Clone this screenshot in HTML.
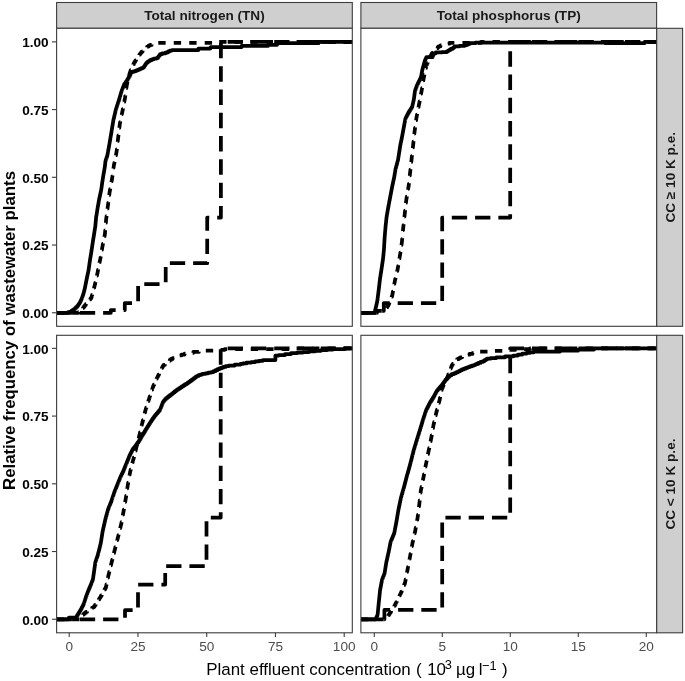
<!DOCTYPE html>
<html><head><meta charset="utf-8"><style>html,body{margin:0;padding:0;background:#fff;width:685px;height:681px;overflow:hidden}</style></head><body>
<svg width="685" height="681" viewBox="0 0 685 681" style="display:block;will-change:transform">
<rect width="685" height="681" fill="#fff"/>
<rect x="56.6" y="2.5" width="295.70" height="25.80" fill="#CFCFCF" stroke="#3d3d3d" stroke-width="1.1"/>
<text x="204.45" y="19.9" text-anchor="middle" font-family="Liberation Sans" font-weight="bold" font-size="13.6" fill="#1A1A1A">Total nitrogen (TN)</text>
<rect x="360.9" y="2.5" width="295.70" height="25.80" fill="#CFCFCF" stroke="#3d3d3d" stroke-width="1.1"/>
<text x="508.75" y="19.9" text-anchor="middle" font-family="Liberation Sans" font-weight="bold" font-size="13.6" fill="#1A1A1A">Total phosphorus (TP)</text>
<rect x="656.6" y="28.3" width="26.00" height="298.00" fill="#CFCFCF" stroke="#3d3d3d" stroke-width="1.1"/>
<text transform="translate(675.2,177.30) rotate(-90)" text-anchor="middle" font-family="Liberation Sans" font-weight="bold" font-size="13.6" fill="#1A1A1A">CC &#8805; 10 K p.e.</text>
<rect x="656.6" y="335.3" width="26.00" height="297.50" fill="#CFCFCF" stroke="#3d3d3d" stroke-width="1.1"/>
<text transform="translate(675.2,484.05) rotate(-90)" text-anchor="middle" font-family="Liberation Sans" font-weight="bold" font-size="13.6" fill="#1A1A1A">CC &lt; 10 K p.e.</text>
<rect x="56.6" y="28.3" width="295.70" height="298.00" fill="#fff"/>
<rect x="56.6" y="335.3" width="295.70" height="297.50" fill="#fff"/>
<rect x="360.9" y="28.3" width="295.70" height="298.00" fill="#fff"/>
<rect x="360.9" y="335.3" width="295.70" height="297.50" fill="#fff"/>
<defs>
<clipPath id="c00"><rect x="56.6" y="28.3" width="295.70" height="298.00"/></clipPath>
<clipPath id="c01"><rect x="56.6" y="335.3" width="295.70" height="297.50"/></clipPath>
<clipPath id="c10"><rect x="360.9" y="28.3" width="295.70" height="298.00"/></clipPath>
<clipPath id="c11"><rect x="360.9" y="335.3" width="295.70" height="297.50"/></clipPath>
</defs>
<path d="M56.60,312.75 L110.80,312.75 L110.80,310.00 L124.80,310.00 L124.80,303.10 L138.10,303.10 L138.10,284.10 L165.70,284.10 L165.70,263.20 L207.20,263.20 L207.20,217.50 L220.90,217.50 L220.90,41.90 L354.30,41.90" fill="none" stroke="#000" stroke-width="3.75" stroke-linejoin="round" stroke-dasharray="15.3 7.96" clip-path="url(#c00)"/>
<path d="M56.60,312.75 L78.00,312.75 L78.58,312.75 L78.58,312.00 L79.75,312.00 L79.75,311.25 L80.92,311.25 L80.92,310.50 L81.50,310.50 L81.80,310.50 L81.80,309.60 L82.40,309.60 L82.40,308.70 L83.00,308.70 L83.00,307.80 L83.60,307.80 L83.60,306.90 L84.20,306.90 L84.20,306.00 L84.50,306.00 L84.94,306.00 L84.94,305.00 L85.81,305.00 L85.81,304.00 L86.69,304.00 L86.69,303.00 L87.56,303.00 L87.56,302.00 L88.00,302.00 L88.34,302.00 L88.34,301.14 L89.02,301.14 L89.02,300.28 L89.70,300.28 L89.70,299.42 L90.38,299.42 L90.38,298.56 L91.06,298.56 L91.06,297.70 L91.40,297.70 L91.53,297.70 L91.53,296.77 L91.78,296.77 L91.78,295.85 L92.04,295.85 L92.04,294.92 L92.29,294.92 L92.29,293.99 L92.55,293.99 L92.55,293.06 L92.80,293.06 L92.80,292.14 L93.05,292.14 L93.05,291.21 L93.31,291.21 L93.31,290.28 L93.56,290.28 L93.56,289.35 L93.82,289.35 L93.82,288.43 L94.07,288.43 L94.07,287.50 L94.20,287.50 L94.31,287.50 L94.31,286.56 L94.54,286.56 L94.54,285.62 L94.76,285.62 L94.76,284.69 L94.99,284.69 L94.99,283.75 L95.21,283.75 L95.21,282.81 L95.44,282.81 L95.44,281.88 L95.66,281.88 L95.66,280.94 L95.89,280.94 L95.89,280.00 L96.00,280.00 L96.09,280.00 L96.09,279.11 L96.28,279.11 L96.28,278.23 L96.47,278.23 L96.47,277.34 L96.66,277.34 L96.66,276.45 L96.84,276.45 L96.84,275.56 L97.03,275.56 L97.03,274.67 L97.22,274.67 L97.22,273.79 L97.41,273.79 L97.41,272.90 L97.50,272.90 L97.59,272.90 L97.59,271.91 L97.78,271.91 L97.78,270.92 L97.97,270.92 L97.97,269.94 L98.16,269.94 L98.16,268.95 L98.34,268.95 L98.34,267.96 L98.53,267.96 L98.53,266.98 L98.72,266.98 L98.72,265.99 L98.91,265.99 L98.91,265.00 L99.00,265.00 L99.10,265.00 L99.10,264.07 L99.30,264.07 L99.30,263.14 L99.50,263.14 L99.50,262.21 L99.70,262.21 L99.70,261.29 L99.90,261.29 L99.90,260.36 L100.10,260.36 L100.10,259.43 L100.30,259.43 L100.30,258.50 L100.40,258.50 L100.48,258.50 L100.48,257.52 L100.65,257.52 L100.65,256.53 L100.82,256.53 L100.82,255.55 L100.98,255.55 L100.98,254.57 L101.15,254.57 L101.15,253.58 L101.32,253.58 L101.32,252.60 L101.48,252.60 L101.48,251.62 L101.65,251.62 L101.65,250.63 L101.82,250.63 L101.82,249.65 L101.98,249.65 L101.98,248.67 L102.15,248.67 L102.15,247.68 L102.32,247.68 L102.32,246.70 L102.40,246.70 L102.50,246.70 L102.50,245.75 L102.69,245.75 L102.69,244.79 L102.88,244.79 L102.88,243.84 L103.07,243.84 L103.07,242.88 L103.27,242.88 L103.27,241.93 L103.46,241.93 L103.46,240.98 L103.65,240.98 L103.65,240.02 L103.84,240.02 L103.84,239.07 L104.03,239.07 L104.03,238.12 L104.23,238.12 L104.23,237.16 L104.42,237.16 L104.42,236.21 L104.61,236.21 L104.61,235.25 L104.80,235.25 L104.80,234.30 L104.90,234.30 L104.94,234.30 L104.94,233.33 L105.02,233.33 L105.02,232.37 L105.10,232.37 L105.10,231.40 L105.18,231.40 L105.18,230.43 L105.26,230.43 L105.26,229.47 L105.34,229.47 L105.34,228.50 L105.42,228.50 L105.42,227.53 L105.50,227.53 L105.50,226.57 L105.58,226.57 L105.58,225.60 L105.66,225.60 L105.66,224.63 L105.74,224.63 L105.74,223.67 L105.82,223.67 L105.82,222.70 L105.90,222.70 L105.90,221.73 L105.98,221.73 L105.98,220.77 L106.06,220.77 L106.06,219.80 L106.10,219.80 L106.16,219.80 L106.16,218.86 L106.28,218.86 L106.28,217.92 L106.40,217.92 L106.40,216.98 L106.52,216.98 L106.52,216.04 L106.64,216.04 L106.64,215.10 L106.76,215.10 L106.76,214.16 L106.88,214.16 L106.88,213.22 L107.00,213.22 L107.00,212.28 L107.12,212.28 L107.12,211.34 L107.24,211.34 L107.24,210.40 L107.36,210.40 L107.36,209.46 L107.48,209.46 L107.48,208.52 L107.60,208.52 L107.60,207.58 L107.72,207.58 L107.72,206.64 L107.84,206.64 L107.84,205.70 L107.90,205.70 L107.96,205.70 L107.96,204.74 L108.08,204.74 L108.08,203.77 L108.20,203.77 L108.20,202.81 L108.33,202.81 L108.33,201.84 L108.45,201.84 L108.45,200.88 L108.57,200.88 L108.57,199.91 L108.69,199.91 L108.69,198.95 L108.81,198.95 L108.81,197.99 L108.93,197.99 L108.93,197.02 L109.05,197.02 L109.05,196.06 L109.17,196.06 L109.17,195.09 L109.30,195.09 L109.30,194.13 L109.42,194.13 L109.42,193.16 L109.54,193.16 L109.54,192.20 L109.60,192.20 L109.69,192.20 L109.69,191.21 L109.88,191.21 L109.88,190.22 L110.06,190.22 L110.06,189.22 L110.25,189.22 L110.25,188.23 L110.43,188.23 L110.43,187.24 L110.62,187.24 L110.62,186.25 L110.80,186.25 L110.80,185.25 L110.98,185.25 L110.98,184.26 L111.17,184.26 L111.17,183.27 L111.35,183.27 L111.35,182.28 L111.54,182.28 L111.54,181.28 L111.72,181.28 L111.72,180.29 L111.91,180.29 L111.91,179.30 L112.00,179.30 L112.06,179.30 L112.06,178.34 L112.19,178.34 L112.19,177.37 L112.32,177.37 L112.32,176.41 L112.45,176.41 L112.45,175.44 L112.58,175.44 L112.58,174.48 L112.71,174.48 L112.71,173.51 L112.84,173.51 L112.84,172.55 L112.96,172.55 L112.96,171.59 L113.09,171.59 L113.09,170.62 L113.22,170.62 L113.22,169.66 L113.35,169.66 L113.35,168.69 L113.48,168.69 L113.48,167.73 L113.61,167.73 L113.61,166.76 L113.74,166.76 L113.74,165.80 L113.80,165.80 L113.90,165.80 L113.90,164.84 L114.09,164.84 L114.09,163.87 L114.28,163.87 L114.28,162.91 L114.47,162.91 L114.47,161.94 L114.67,161.94 L114.67,160.98 L114.86,160.98 L114.86,160.01 L115.05,160.01 L115.05,159.05 L115.25,159.05 L115.25,158.09 L115.44,158.09 L115.44,157.12 L115.63,157.12 L115.63,156.16 L115.83,156.16 L115.83,155.19 L116.02,155.19 L116.02,154.23 L116.21,154.23 L116.21,153.26 L116.40,153.26 L116.40,152.30 L116.50,152.30 L116.55,152.30 L116.55,151.36 L116.66,151.36 L116.66,150.42 L116.77,150.42 L116.77,149.48 L116.87,149.48 L116.87,148.54 L116.98,148.54 L116.98,147.60 L117.09,147.60 L117.09,146.66 L117.19,146.66 L117.19,145.72 L117.30,145.72 L117.30,144.78 L117.41,144.78 L117.41,143.84 L117.51,143.84 L117.51,142.90 L117.62,142.90 L117.62,141.96 L117.73,141.96 L117.73,141.02 L117.83,141.02 L117.83,140.08 L117.94,140.08 L117.94,139.14 L118.05,139.14 L118.05,138.20 L118.10,138.20 L118.16,138.20 L118.16,137.25 L118.27,137.25 L118.27,136.31 L118.38,136.31 L118.38,135.36 L118.50,135.36 L118.50,134.41 L118.61,134.41 L118.61,133.47 L118.72,133.47 L118.72,132.52 L118.84,132.52 L118.84,131.57 L118.95,131.57 L118.95,130.63 L119.06,130.63 L119.06,129.68 L119.18,129.68 L119.18,128.73 L119.29,128.73 L119.29,127.79 L119.40,127.79 L119.40,126.84 L119.52,126.84 L119.52,125.89 L119.63,125.89 L119.63,124.95 L119.74,124.95 L119.74,124.00 L119.80,124.00 L119.90,124.00 L119.90,123.01 L120.11,123.01 L120.11,122.02 L120.32,122.02 L120.32,121.02 L120.53,121.02 L120.53,120.03 L120.73,120.03 L120.73,119.04 L120.94,119.04 L120.94,118.05 L121.15,118.05 L121.15,117.05 L121.36,117.05 L121.36,116.06 L121.57,116.06 L121.57,115.07 L121.77,115.07 L121.77,114.08 L121.98,114.08 L121.98,113.08 L122.19,113.08 L122.19,112.09 L122.40,112.09 L122.40,111.10 L122.50,111.10 L122.59,111.10 L122.59,110.16 L122.77,110.16 L122.77,109.23 L122.95,109.23 L122.95,108.29 L123.12,108.29 L123.12,107.36 L123.30,107.36 L123.30,106.42 L123.48,106.42 L123.48,105.49 L123.66,105.49 L123.66,104.55 L123.84,104.55 L123.84,103.61 L124.02,103.61 L124.02,102.68 L124.20,102.68 L124.20,101.74 L124.38,101.74 L124.38,100.81 L124.55,100.81 L124.55,99.87 L124.73,99.87 L124.73,98.94 L124.91,98.94 L124.91,98.00 L125.00,98.00 L125.07,98.00 L125.07,97.00 L125.21,97.00 L125.21,96.00 L125.35,96.00 L125.35,95.00 L125.48,95.00 L125.48,94.00 L125.62,94.00 L125.62,93.00 L125.76,93.00 L125.76,92.00 L125.90,92.00 L125.90,91.00 L126.04,91.00 L126.04,90.00 L126.18,90.00 L126.18,89.00 L126.32,89.00 L126.32,88.00 L126.45,88.00 L126.45,87.00 L126.59,87.00 L126.59,86.00 L126.73,86.00 L126.73,85.00 L126.80,85.00 L126.92,85.00 L126.92,84.00 L127.17,84.00 L127.17,83.00 L127.41,83.00 L127.41,82.00 L127.66,82.00 L127.66,81.00 L127.90,81.00 L127.90,80.00 L128.15,80.00 L128.15,79.00 L128.40,79.00 L128.40,78.00 L128.64,78.00 L128.64,77.00 L128.89,77.00 L128.89,76.00 L129.13,76.00 L129.13,75.00 L129.38,75.00 L129.38,74.00 L129.50,74.00 L129.67,74.00 L129.67,73.00 L130.00,73.00 L130.00,72.00 L130.33,72.00 L130.33,71.00 L130.67,71.00 L130.67,70.00 L131.00,70.00 L131.00,69.00 L131.33,69.00 L131.33,68.00 L131.50,68.00 L131.76,68.00 L131.76,67.03 L132.28,67.03 L132.28,66.07 L132.79,66.07 L132.79,65.10 L133.31,65.10 L133.31,64.13 L133.82,64.13 L133.82,63.17 L134.34,63.17 L134.34,62.20 L134.60,62.20 L134.89,62.20 L134.89,61.26 L135.47,61.26 L135.47,60.32 L136.05,60.32 L136.05,59.38 L136.63,59.38 L136.63,58.44 L137.21,58.44 L137.21,57.50 L137.50,57.50 L137.87,57.50 L137.87,56.50 L138.61,56.50 L138.61,55.50 L139.35,55.50 L139.35,54.50 L140.09,54.50 L140.09,53.50 L140.83,53.50 L140.83,52.50 L141.20,52.50 L141.67,52.50 L141.67,51.50 L142.62,51.50 L142.62,50.50 L143.57,50.50 L143.57,49.50 L144.53,49.50 L144.53,48.50 L145.00,48.50 L145.72,48.50 L145.72,47.53 L147.15,47.53 L147.15,46.57 L148.58,46.57 L148.58,45.60 L149.30,45.60 L150.08,45.60 L150.08,44.90 L151.65,44.90 L151.65,44.20 L153.22,44.20 L153.22,43.50 L154.00,43.50 L156.60,43.50 L156.60,42.90 L159.20,42.90 L212.00,42.90 L213.00,42.90 L213.00,41.90 L214.00,41.90 L354.30,41.90" fill="none" stroke="#000" stroke-width="3.75" stroke-linejoin="round" stroke-dasharray="7.35 8.13" clip-path="url(#c00)"/>
<path d="M56.60,312.75 L67.00,312.75 L68.00,312.75 L68.00,312.12 L70.00,312.12 L70.00,311.50 L71.00,311.50 L71.58,311.50 L71.58,310.67 L72.75,310.67 L72.75,309.83 L73.92,309.83 L73.92,309.00 L74.50,309.00 L75.02,309.00 L75.02,308.00 L76.05,308.00 L76.05,307.00 L77.08,307.00 L77.08,306.00 L77.60,306.00 L77.90,306.00 L77.90,305.12 L78.50,305.12 L78.50,304.25 L79.10,304.25 L79.10,303.38 L79.70,303.38 L79.70,302.50 L80.00,302.50 L80.20,302.50 L80.20,301.62 L80.60,301.62 L80.60,300.75 L81.00,300.75 L81.00,299.88 L81.40,299.88 L81.40,299.00 L81.60,299.00 L81.78,299.00 L81.78,298.00 L82.14,298.00 L82.14,297.00 L82.50,297.00 L82.50,296.00 L82.86,296.00 L82.86,295.00 L83.22,295.00 L83.22,294.00 L83.40,294.00 L83.52,294.00 L83.52,293.08 L83.75,293.08 L83.75,292.17 L83.98,292.17 L83.98,291.25 L84.22,291.25 L84.22,290.33 L84.45,290.33 L84.45,289.42 L84.68,289.42 L84.68,288.50 L84.80,288.50 L84.89,288.50 L84.89,287.57 L85.08,287.57 L85.08,286.64 L85.26,286.64 L85.26,285.71 L85.45,285.71 L85.45,284.79 L85.64,284.79 L85.64,283.86 L85.82,283.86 L85.82,282.93 L86.01,282.93 L86.01,282.00 L86.10,282.00 L86.20,282.00 L86.20,281.00 L86.40,281.00 L86.40,280.00 L86.60,280.00 L86.60,279.00 L86.80,279.00 L86.80,278.00 L87.00,278.00 L87.00,277.00 L87.20,277.00 L87.20,276.00 L87.30,276.00 L87.40,276.00 L87.40,275.08 L87.60,275.08 L87.60,274.17 L87.80,274.17 L87.80,273.25 L88.00,273.25 L88.00,272.33 L88.20,272.33 L88.20,271.42 L88.40,271.42 L88.40,270.50 L88.50,270.50 L88.57,270.50 L88.57,269.55 L88.70,269.55 L88.70,268.59 L88.84,268.59 L88.84,267.64 L88.98,267.64 L88.98,266.68 L89.11,266.68 L89.11,265.73 L89.25,265.73 L89.25,264.77 L89.39,264.77 L89.39,263.82 L89.52,263.82 L89.52,262.86 L89.66,262.86 L89.66,261.91 L89.80,261.91 L89.80,260.95 L89.93,260.95 L89.93,260.00 L90.00,260.00 L90.08,260.00 L90.08,259.10 L90.22,259.10 L90.22,258.20 L90.38,258.20 L90.38,257.30 L90.53,257.30 L90.53,256.40 L90.67,256.40 L90.67,255.50 L90.83,255.50 L90.83,254.60 L90.98,254.60 L90.98,253.70 L91.12,253.70 L91.12,252.80 L91.20,252.80 L91.27,252.80 L91.27,251.82 L91.42,251.82 L91.42,250.84 L91.56,250.84 L91.56,249.87 L91.71,249.87 L91.71,248.89 L91.85,248.89 L91.85,247.91 L91.99,247.91 L91.99,246.93 L92.14,246.93 L92.14,245.96 L92.28,245.96 L92.28,244.98 L92.43,244.98 L92.43,244.00 L92.50,244.00 L92.58,244.00 L92.58,243.02 L92.73,243.02 L92.73,242.04 L92.89,242.04 L92.89,241.07 L93.04,241.07 L93.04,240.09 L93.20,240.09 L93.20,239.11 L93.36,239.11 L93.36,238.13 L93.51,238.13 L93.51,237.16 L93.67,237.16 L93.67,236.18 L93.82,236.18 L93.82,235.20 L93.90,235.20 L93.98,235.20 L93.98,234.22 L94.13,234.22 L94.13,233.24 L94.29,233.24 L94.29,232.27 L94.44,232.27 L94.44,231.29 L94.60,231.29 L94.60,230.31 L94.76,230.31 L94.76,229.33 L94.91,229.33 L94.91,228.36 L95.07,228.36 L95.07,227.38 L95.22,227.38 L95.22,226.40 L95.30,226.40 L95.34,226.40 L95.34,225.42 L95.43,225.42 L95.43,224.44 L95.52,224.44 L95.52,223.47 L95.61,223.47 L95.61,222.49 L95.70,222.49 L95.70,221.51 L95.79,221.51 L95.79,220.53 L95.88,220.53 L95.88,219.56 L95.97,219.56 L95.97,218.58 L96.06,218.58 L96.06,217.60 L96.10,217.60 L96.18,217.60 L96.18,216.62 L96.33,216.62 L96.33,215.64 L96.49,215.64 L96.49,214.67 L96.64,214.67 L96.64,213.69 L96.80,213.69 L96.80,212.71 L96.96,212.71 L96.96,211.73 L97.11,211.73 L97.11,210.76 L97.27,210.76 L97.27,209.78 L97.42,209.78 L97.42,208.80 L97.50,208.80 L97.58,208.80 L97.58,207.82 L97.75,207.82 L97.75,206.84 L97.92,206.84 L97.92,205.87 L98.08,205.87 L98.08,204.89 L98.25,204.89 L98.25,203.91 L98.42,203.91 L98.42,202.93 L98.58,202.93 L98.58,201.96 L98.75,201.96 L98.75,200.98 L98.92,200.98 L98.92,200.00 L99.00,200.00 L99.11,200.00 L99.11,199.04 L99.31,199.04 L99.31,198.08 L99.53,198.08 L99.53,197.12 L99.73,197.12 L99.73,196.16 L99.94,196.16 L99.94,195.20 L100.16,195.20 L100.16,194.24 L100.36,194.24 L100.36,193.28 L100.57,193.28 L100.57,192.32 L100.78,192.32 L100.78,191.36 L100.99,191.36 L100.99,190.40 L101.10,190.40 L101.17,190.40 L101.17,189.43 L101.31,189.43 L101.31,188.45 L101.45,188.45 L101.45,187.47 L101.60,187.47 L101.60,186.50 L101.74,186.50 L101.74,185.53 L101.88,185.53 L101.88,184.55 L102.02,184.55 L102.02,183.57 L102.16,183.57 L102.16,182.60 L102.30,182.60 L102.30,181.62 L102.45,181.62 L102.45,180.65 L102.59,180.65 L102.59,179.67 L102.73,179.67 L102.73,178.70 L102.80,178.70 L102.88,178.70 L102.88,177.72 L103.05,177.72 L103.05,176.75 L103.22,176.75 L103.22,175.77 L103.38,175.77 L103.38,174.80 L103.55,174.80 L103.55,173.82 L103.72,173.82 L103.72,172.85 L103.88,172.85 L103.88,171.88 L104.05,171.88 L104.05,170.90 L104.22,170.90 L104.22,169.93 L104.38,169.93 L104.38,168.95 L104.55,168.95 L104.55,167.97 L104.72,167.97 L104.72,167.00 L104.80,167.00 L104.86,167.00 L104.86,166.02 L104.97,166.02 L104.97,165.03 L105.09,165.03 L105.09,164.05 L105.21,164.05 L105.21,163.07 L105.33,163.07 L105.33,162.08 L105.44,162.08 L105.44,161.10 L105.50,161.10 L105.66,161.10 L105.66,160.12 L105.97,160.12 L105.97,159.13 L106.29,159.13 L106.29,158.15 L106.61,158.15 L106.61,157.17 L106.93,157.17 L106.93,156.18 L107.24,156.18 L107.24,155.20 L107.40,155.20 L107.49,155.20 L107.49,154.22 L107.66,154.22 L107.66,153.25 L107.84,153.25 L107.84,152.27 L108.01,152.27 L108.01,151.30 L108.19,151.30 L108.19,150.32 L108.36,150.32 L108.36,149.35 L108.54,149.35 L108.54,148.38 L108.71,148.38 L108.71,147.40 L108.89,147.40 L108.89,146.43 L109.06,146.43 L109.06,145.45 L109.24,145.45 L109.24,144.47 L109.41,144.47 L109.41,143.50 L109.50,143.50 L109.58,143.50 L109.58,142.52 L109.75,142.52 L109.75,141.53 L109.92,141.53 L109.92,140.55 L110.08,140.55 L110.08,139.57 L110.25,139.57 L110.25,138.58 L110.42,138.58 L110.42,137.60 L110.58,137.60 L110.58,136.62 L110.75,136.62 L110.75,135.63 L110.92,135.63 L110.92,134.65 L111.08,134.65 L111.08,133.67 L111.25,133.67 L111.25,132.68 L111.42,132.68 L111.42,131.70 L111.50,131.70 L111.58,131.70 L111.58,130.72 L111.74,130.72 L111.74,129.75 L111.90,129.75 L111.90,128.77 L112.05,128.77 L112.05,127.80 L112.21,127.80 L112.21,126.82 L112.37,126.82 L112.37,125.85 L112.53,125.85 L112.53,124.88 L112.69,124.88 L112.69,123.90 L112.85,123.90 L112.85,122.92 L113.00,122.92 L113.00,121.95 L113.16,121.95 L113.16,120.97 L113.32,120.97 L113.32,120.00 L113.40,120.00 L113.51,120.00 L113.51,119.08 L113.73,119.08 L113.73,118.16 L113.95,118.16 L113.95,117.25 L114.16,117.25 L114.16,116.33 L114.38,116.33 L114.38,115.41 L114.60,115.41 L114.60,114.49 L114.82,114.49 L114.82,113.57 L115.04,113.57 L115.04,112.65 L115.25,112.65 L115.25,111.74 L115.47,111.74 L115.47,110.82 L115.69,110.82 L115.69,109.90 L115.80,109.90 L115.96,109.90 L115.96,108.90 L116.28,108.90 L116.28,107.90 L116.60,107.90 L116.60,106.90 L116.92,106.90 L116.92,105.90 L117.24,105.90 L117.24,104.90 L117.56,104.90 L117.56,103.90 L117.88,103.90 L117.88,102.90 L118.20,102.90 L118.20,101.90 L118.52,101.90 L118.52,100.90 L118.84,100.90 L118.84,99.90 L119.00,99.90 L119.14,99.90 L119.14,98.96 L119.41,98.96 L119.41,98.03 L119.69,98.03 L119.69,97.09 L119.96,97.09 L119.96,96.15 L120.24,96.15 L120.24,95.21 L120.51,95.21 L120.51,94.28 L120.79,94.28 L120.79,93.34 L121.06,93.34 L121.06,92.40 L121.20,92.40 L121.38,92.40 L121.38,91.44 L121.74,91.44 L121.74,90.48 L122.11,90.48 L122.11,89.51 L122.47,89.51 L122.47,88.55 L122.83,88.55 L122.83,87.59 L123.19,87.59 L123.19,86.62 L123.56,86.62 L123.56,85.66 L123.92,85.66 L123.92,84.70 L124.10,84.70 L124.39,84.70 L124.39,83.86 L124.97,83.86 L124.97,83.02 L125.55,83.02 L125.55,82.18 L126.13,82.18 L126.13,81.34 L126.71,81.34 L126.71,80.50 L127.00,80.50 L127.25,80.50 L127.25,79.63 L127.75,79.63 L127.75,78.77 L128.25,78.77 L128.25,77.90 L128.75,77.90 L128.75,77.03 L129.25,77.03 L129.25,76.17 L129.75,76.17 L129.75,75.30 L130.00,75.30 L130.22,75.30 L130.22,74.30 L130.65,74.30 L130.65,73.30 L131.08,73.30 L131.08,72.30 L131.30,72.30 L132.30,72.30 L132.30,71.65 L134.30,71.65 L134.30,71.00 L135.30,71.00 L136.18,71.00 L136.18,70.27 L137.95,70.27 L137.95,69.53 L139.72,69.53 L139.72,68.80 L140.60,68.80 L141.32,68.80 L141.32,68.20 L142.78,68.20 L142.78,67.60 L143.50,67.60 L143.79,67.60 L143.79,66.72 L144.37,66.72 L144.37,65.84 L144.95,65.84 L144.95,64.96 L145.53,64.96 L145.53,64.08 L146.11,64.08 L146.11,63.20 L146.40,63.20 L146.83,63.20 L146.83,62.47 L147.70,62.47 L147.70,61.73 L148.57,61.73 L148.57,61.00 L149.00,61.00 L149.85,61.00 L149.85,60.15 L151.55,60.15 L151.55,59.30 L152.40,59.30 L153.68,59.30 L153.68,58.65 L156.22,58.65 L156.22,58.00 L157.50,58.00 L157.86,58.00 L157.86,57.05 L158.59,57.05 L158.59,56.10 L159.31,56.10 L159.31,55.15 L160.04,55.15 L160.04,54.20 L160.40,54.20 L162.03,54.20 L162.03,53.40 L165.28,53.40 L165.28,52.60 L166.90,52.60 L167.48,52.60 L167.48,51.90 L168.65,51.90 L168.65,51.20 L169.82,51.20 L169.82,50.50 L170.40,50.50 L171.90,50.50 L171.90,50.00 L173.40,50.00 L198.40,50.00 L198.40,48.60 L210.00,48.60 L210.25,48.60 L210.25,47.85 L210.75,47.85 L210.75,47.10 L211.00,47.10 L226.30,47.10 L226.30,47.00 L241.60,47.00 L241.60,45.90 L267.90,45.90 L267.90,44.80 L276.70,44.80 L277.02,44.80 L277.02,44.00 L277.68,44.00 L277.68,43.20 L278.00,43.20 L318.50,43.20 L318.50,41.90 L354.30,41.90" fill="none" stroke="#000" stroke-width="3.75" stroke-linejoin="round"  clip-path="url(#c00)"/>
<path d="M360.90,312.75 L377.00,312.75 L377.00,310.80 L383.80,310.80 L383.80,303.00 L442.20,303.00 L442.20,217.60 L510.20,217.60 L510.20,41.90 L658.60,41.90" fill="none" stroke="#000" stroke-width="3.75" stroke-linejoin="round" stroke-dasharray="15.3 7.96" clip-path="url(#c10)"/>
<path d="M360.90,312.75 L377.00,312.75 L377.00,310.80 L385.00,310.80 L385.26,310.80 L385.26,309.90 L385.79,309.90 L385.79,309.00 L386.32,309.00 L386.32,308.10 L386.85,308.10 L386.85,307.20 L387.38,307.20 L387.38,306.30 L387.91,306.30 L387.91,305.40 L388.44,305.40 L388.44,304.50 L388.70,304.50 L388.89,304.50 L388.89,303.52 L389.28,303.52 L389.28,302.54 L389.67,302.54 L389.67,301.57 L390.06,301.57 L390.06,300.59 L390.45,300.59 L390.45,299.61 L390.84,299.61 L390.84,298.63 L391.23,298.63 L391.23,297.66 L391.62,297.66 L391.62,296.68 L392.01,296.68 L392.01,295.70 L392.20,295.70 L392.29,295.70 L392.29,294.71 L392.47,294.71 L392.47,293.71 L392.65,293.71 L392.65,292.72 L392.83,292.72 L392.83,291.73 L393.01,291.73 L393.01,290.73 L393.19,290.73 L393.19,289.74 L393.37,289.74 L393.37,288.75 L393.55,288.75 L393.55,287.75 L393.73,287.75 L393.73,286.76 L393.91,286.76 L393.91,285.77 L394.09,285.77 L394.09,284.77 L394.27,284.77 L394.27,283.78 L394.45,283.78 L394.45,282.79 L394.63,282.79 L394.63,281.79 L394.81,281.79 L394.81,280.80 L394.90,280.80 L395.02,280.80 L395.02,279.82 L395.25,279.82 L395.25,278.83 L395.48,278.83 L395.48,277.85 L395.72,277.85 L395.72,276.87 L395.95,276.87 L395.95,275.88 L396.18,275.88 L396.18,274.90 L396.42,274.90 L396.42,273.92 L396.65,273.92 L396.65,272.93 L396.88,272.93 L396.88,271.95 L397.12,271.95 L397.12,270.97 L397.35,270.97 L397.35,269.98 L397.58,269.98 L397.58,269.00 L397.70,269.00 L397.78,269.00 L397.78,268.04 L397.94,268.04 L397.94,267.08 L398.10,267.08 L398.10,266.12 L398.26,266.12 L398.26,265.16 L398.42,265.16 L398.42,264.20 L398.58,264.20 L398.58,263.24 L398.74,263.24 L398.74,262.28 L398.90,262.28 L398.90,261.32 L399.06,261.32 L399.06,260.36 L399.22,260.36 L399.22,259.40 L399.38,259.40 L399.38,258.44 L399.54,258.44 L399.54,257.48 L399.70,257.48 L399.70,256.52 L399.86,256.52 L399.86,255.56 L400.02,255.56 L400.02,254.60 L400.10,254.60 L400.17,254.60 L400.17,253.63 L400.31,253.63 L400.31,252.66 L400.45,252.66 L400.45,251.69 L400.58,251.69 L400.58,250.72 L400.72,250.72 L400.72,249.75 L400.86,249.75 L400.86,248.78 L401.00,248.78 L401.00,247.82 L401.14,247.82 L401.14,246.85 L401.28,246.85 L401.28,245.88 L401.42,245.88 L401.42,244.91 L401.55,244.91 L401.55,243.94 L401.69,243.94 L401.69,242.97 L401.83,242.97 L401.83,242.00 L401.90,242.00 L401.95,242.00 L401.95,241.01 L402.04,241.01 L402.04,240.01 L402.13,240.01 L402.13,239.02 L402.22,239.02 L402.22,238.03 L402.32,238.03 L402.32,237.04 L402.41,237.04 L402.41,236.04 L402.50,236.04 L402.50,235.05 L402.60,235.05 L402.60,234.06 L402.69,234.06 L402.69,233.06 L402.78,233.06 L402.78,232.07 L402.88,232.07 L402.88,231.08 L402.97,231.08 L402.97,230.09 L403.06,230.09 L403.06,229.09 L403.15,229.09 L403.15,228.10 L403.20,228.10 L403.25,228.10 L403.25,227.13 L403.36,227.13 L403.36,226.17 L403.47,226.17 L403.47,225.20 L403.57,225.20 L403.57,224.23 L403.68,224.23 L403.68,223.27 L403.79,223.27 L403.79,222.30 L403.89,222.30 L403.89,221.33 L404.00,221.33 L404.00,220.37 L404.11,220.37 L404.11,219.40 L404.21,219.40 L404.21,218.43 L404.32,218.43 L404.32,217.47 L404.43,217.47 L404.43,216.50 L404.53,216.50 L404.53,215.53 L404.64,215.53 L404.64,214.57 L404.75,214.57 L404.75,213.60 L404.80,213.60 L404.85,213.60 L404.85,212.61 L404.96,212.61 L404.96,211.61 L405.07,211.61 L405.07,210.62 L405.18,210.62 L405.18,209.63 L405.28,209.63 L405.28,208.64 L405.39,208.64 L405.39,207.64 L405.50,207.64 L405.50,206.65 L405.60,206.65 L405.60,205.66 L405.71,205.66 L405.71,204.66 L405.82,204.66 L405.82,203.67 L405.93,203.67 L405.93,202.68 L406.03,202.68 L406.03,201.69 L406.14,201.69 L406.14,200.69 L406.25,200.69 L406.25,199.70 L406.30,199.70 L406.39,199.70 L406.39,198.71 L406.56,198.71 L406.56,197.71 L406.73,197.71 L406.73,196.72 L406.90,196.72 L406.90,195.73 L407.07,195.73 L407.07,194.74 L407.24,194.74 L407.24,193.74 L407.41,193.74 L407.41,192.75 L407.59,192.75 L407.59,191.76 L407.76,191.76 L407.76,190.76 L407.93,190.76 L407.93,189.77 L408.10,189.77 L408.10,188.78 L408.27,188.78 L408.27,187.79 L408.44,187.79 L408.44,186.79 L408.61,186.79 L408.61,185.80 L408.70,185.80 L408.75,185.80 L408.75,184.86 L408.85,184.86 L408.85,183.91 L408.95,183.91 L408.95,182.97 L409.05,182.97 L409.05,182.03 L409.15,182.03 L409.15,181.09 L409.25,181.09 L409.25,180.14 L409.35,180.14 L409.35,179.20 L409.45,179.20 L409.45,178.26 L409.55,178.26 L409.55,177.31 L409.65,177.31 L409.65,176.37 L409.75,176.37 L409.75,175.43 L409.85,175.43 L409.85,174.49 L409.95,174.49 L409.95,173.54 L410.05,173.54 L410.05,172.60 L410.10,172.60 L410.15,172.60 L410.15,171.63 L410.26,171.63 L410.26,170.66 L410.37,170.66 L410.37,169.69 L410.48,169.69 L410.48,168.71 L410.58,168.71 L410.58,167.74 L410.69,167.74 L410.69,166.77 L410.80,166.77 L410.80,165.80 L410.90,165.80 L410.90,164.83 L411.01,164.83 L411.01,163.86 L411.12,163.86 L411.12,162.89 L411.23,162.89 L411.23,161.91 L411.33,161.91 L411.33,160.94 L411.44,160.94 L411.44,159.97 L411.55,159.97 L411.55,159.00 L411.60,159.00 L411.65,159.00 L411.65,158.04 L411.76,158.04 L411.76,157.08 L411.87,157.08 L411.87,156.12 L411.97,156.12 L411.97,155.16 L412.08,155.16 L412.08,154.20 L412.19,154.20 L412.19,153.24 L412.29,153.24 L412.29,152.28 L412.40,152.28 L412.40,151.32 L412.51,151.32 L412.51,150.36 L412.61,150.36 L412.61,149.40 L412.72,149.40 L412.72,148.44 L412.83,148.44 L412.83,147.48 L412.93,147.48 L412.93,146.52 L413.04,146.52 L413.04,145.56 L413.15,145.56 L413.15,144.60 L413.20,144.60 L413.25,144.60 L413.25,143.60 L413.36,143.60 L413.36,142.60 L413.47,142.60 L413.47,141.60 L413.57,141.60 L413.57,140.60 L413.68,140.60 L413.68,139.60 L413.79,139.60 L413.79,138.60 L413.90,138.60 L413.90,137.60 L414.00,137.60 L414.00,136.60 L414.11,136.60 L414.11,135.60 L414.22,135.60 L414.22,134.60 L414.32,134.60 L414.32,133.60 L414.43,133.60 L414.43,132.60 L414.54,132.60 L414.54,131.60 L414.65,131.60 L414.65,130.60 L414.70,130.60 L414.76,130.60 L414.76,129.66 L414.89,129.66 L414.89,128.71 L415.02,128.71 L415.02,127.77 L415.15,127.77 L415.15,126.83 L415.28,126.83 L415.28,125.89 L415.41,125.89 L415.41,124.94 L415.54,124.94 L415.54,124.00 L415.66,124.00 L415.66,123.06 L415.79,123.06 L415.79,122.11 L415.92,122.11 L415.92,121.17 L416.05,121.17 L416.05,120.23 L416.18,120.23 L416.18,119.29 L416.31,119.29 L416.31,118.34 L416.44,118.34 L416.44,117.40 L416.50,117.40 L416.59,117.40 L416.59,116.45 L416.78,116.45 L416.78,115.50 L416.96,115.50 L416.96,114.55 L417.15,114.55 L417.15,113.60 L417.34,113.60 L417.34,112.65 L417.52,112.65 L417.52,111.70 L417.71,111.70 L417.71,110.75 L417.89,110.75 L417.89,109.80 L418.08,109.80 L418.08,108.85 L418.26,108.85 L418.26,107.90 L418.45,107.90 L418.45,106.95 L418.64,106.95 L418.64,106.00 L418.82,106.00 L418.82,105.05 L419.01,105.05 L419.01,104.10 L419.10,104.10 L419.19,104.10 L419.19,103.16 L419.37,103.16 L419.37,102.21 L419.55,102.21 L419.55,101.27 L419.73,101.27 L419.73,100.33 L419.90,100.33 L419.90,99.39 L420.08,99.39 L420.08,98.44 L420.26,98.44 L420.26,97.50 L420.44,97.50 L420.44,96.56 L420.62,96.56 L420.62,95.61 L420.80,95.61 L420.80,94.67 L420.98,94.67 L420.98,93.73 L421.15,93.73 L421.15,92.79 L421.33,92.79 L421.33,91.84 L421.51,91.84 L421.51,90.90 L421.60,90.90 L421.68,90.90 L421.68,89.95 L421.84,89.95 L421.84,89.00 L421.99,89.00 L421.99,88.05 L422.15,88.05 L422.15,87.10 L422.31,87.10 L422.31,86.15 L422.46,86.15 L422.46,85.20 L422.62,85.20 L422.62,84.25 L422.78,84.25 L422.78,83.30 L422.94,83.30 L422.94,82.35 L423.09,82.35 L423.09,81.40 L423.25,81.40 L423.25,80.45 L423.41,80.45 L423.41,79.50 L423.56,79.50 L423.56,78.55 L423.72,78.55 L423.72,77.60 L423.80,77.60 L423.90,77.60 L423.90,76.64 L424.11,76.64 L424.11,75.68 L424.32,75.68 L424.32,74.72 L424.53,74.72 L424.53,73.75 L424.73,73.75 L424.73,72.79 L424.94,72.79 L424.94,71.83 L425.15,71.83 L425.15,70.87 L425.36,70.87 L425.36,69.91 L425.57,69.91 L425.57,68.95 L425.77,68.95 L425.77,67.98 L425.98,67.98 L425.98,67.02 L426.19,67.02 L426.19,66.06 L426.40,66.06 L426.40,65.10 L426.50,65.10 L426.72,65.10 L426.72,64.15 L427.16,64.15 L427.16,63.20 L427.60,63.20 L427.60,62.25 L428.05,62.25 L428.05,61.30 L428.49,61.30 L428.49,60.35 L428.93,60.35 L428.93,59.40 L429.37,59.40 L429.37,58.45 L429.81,58.45 L429.81,57.50 L430.25,57.50 L430.25,56.55 L430.70,56.55 L430.70,55.60 L431.14,55.60 L431.14,54.65 L431.58,54.65 L431.58,53.70 L431.80,53.70 L432.25,53.70 L432.25,52.78 L433.15,52.78 L433.15,51.85 L434.05,51.85 L434.05,50.92 L434.95,50.92 L434.95,50.00 L435.85,50.00 L435.85,49.08 L436.75,49.08 L436.75,48.15 L437.65,48.15 L437.65,47.22 L438.55,47.22 L438.55,46.30 L439.00,46.30 L440.49,46.30 L440.49,45.42 L443.46,45.42 L443.46,44.55 L446.44,44.55 L446.44,43.67 L449.41,43.67 L449.41,42.80 L450.90,42.80 L481.00,42.80 L481.00,41.90 L658.60,41.90" fill="none" stroke="#000" stroke-width="3.75" stroke-linejoin="round" stroke-dasharray="7.35 8.13" clip-path="url(#c10)"/>
<path d="M360.90,312.75 L374.50,312.75 L374.62,312.75 L374.62,311.81 L374.88,311.81 L374.88,310.88 L375.12,310.88 L375.12,309.94 L375.38,309.94 L375.38,309.00 L375.50,309.00 L375.61,309.00 L375.61,308.00 L375.84,308.00 L375.84,307.00 L376.06,307.00 L376.06,306.00 L376.29,306.00 L376.29,305.00 L376.51,305.00 L376.51,304.00 L376.74,304.00 L376.74,303.00 L376.96,303.00 L376.96,302.00 L377.19,302.00 L377.19,301.00 L377.30,301.00 L377.36,301.00 L377.36,300.00 L377.49,300.00 L377.49,299.00 L377.62,299.00 L377.62,298.00 L377.75,298.00 L377.75,297.00 L377.87,297.00 L377.87,296.00 L378.00,296.00 L378.00,295.00 L378.13,295.00 L378.13,294.00 L378.25,294.00 L378.25,293.00 L378.38,293.00 L378.38,292.00 L378.51,292.00 L378.51,291.00 L378.64,291.00 L378.64,290.00 L378.70,290.00 L378.75,290.00 L378.75,289.07 L378.86,289.07 L378.86,288.13 L378.97,288.13 L378.97,287.20 L379.08,287.20 L379.08,286.27 L379.19,286.27 L379.19,285.33 L379.30,285.33 L379.30,284.40 L379.40,284.40 L379.40,283.47 L379.51,283.47 L379.51,282.53 L379.62,282.53 L379.62,281.60 L379.73,281.60 L379.73,280.67 L379.84,280.67 L379.84,279.73 L379.95,279.73 L379.95,278.80 L380.00,278.80 L380.07,278.80 L380.07,277.86 L380.22,277.86 L380.22,276.93 L380.36,276.93 L380.36,275.99 L380.51,275.99 L380.51,275.05 L380.65,275.05 L380.65,274.12 L380.80,274.12 L380.80,273.18 L380.95,273.18 L380.95,272.25 L381.09,272.25 L381.09,271.31 L381.24,271.31 L381.24,270.37 L381.38,270.37 L381.38,269.44 L381.53,269.44 L381.53,268.50 L381.60,268.50 L381.67,268.50 L381.67,267.56 L381.80,267.56 L381.80,266.63 L381.94,266.63 L381.94,265.69 L382.08,265.69 L382.08,264.75 L382.21,264.75 L382.21,263.82 L382.35,263.82 L382.35,262.88 L382.49,262.88 L382.49,261.95 L382.62,261.95 L382.62,261.01 L382.76,261.01 L382.76,260.07 L382.90,260.07 L382.90,259.14 L383.03,259.14 L383.03,258.20 L383.10,258.20 L383.14,258.20 L383.14,257.29 L383.23,257.29 L383.23,256.38 L383.32,256.38 L383.32,255.47 L383.41,255.47 L383.41,254.56 L383.50,254.56 L383.50,253.64 L383.59,253.64 L383.59,252.73 L383.68,252.73 L383.68,251.82 L383.77,251.82 L383.77,250.91 L383.86,250.91 L383.86,250.00 L383.90,250.00 L383.93,250.00 L383.93,249.05 L383.99,249.05 L383.99,248.10 L384.04,248.10 L384.04,247.15 L384.10,247.15 L384.10,246.20 L384.16,246.20 L384.16,245.25 L384.21,245.25 L384.21,244.30 L384.27,244.30 L384.27,243.35 L384.33,243.35 L384.33,242.40 L384.39,242.40 L384.39,241.45 L384.44,241.45 L384.44,240.50 L384.50,240.50 L384.50,239.55 L384.56,239.55 L384.56,238.60 L384.61,238.60 L384.61,237.65 L384.67,237.65 L384.67,236.70 L384.70,236.70 L384.74,236.70 L384.74,235.74 L384.82,235.74 L384.82,234.77 L384.90,234.77 L384.90,233.81 L384.99,233.81 L384.99,232.85 L385.07,232.85 L385.07,231.88 L385.15,231.88 L385.15,230.92 L385.23,230.92 L385.23,229.95 L385.31,229.95 L385.31,228.99 L385.40,228.99 L385.40,228.03 L385.48,228.03 L385.48,227.06 L385.56,227.06 L385.56,226.10 L385.60,226.10 L385.65,226.10 L385.65,225.18 L385.75,225.18 L385.75,224.26 L385.85,224.26 L385.85,223.34 L385.95,223.34 L385.95,222.42 L386.05,222.42 L386.05,221.50 L386.15,221.50 L386.15,220.58 L386.25,220.58 L386.25,219.66 L386.35,219.66 L386.35,218.74 L386.45,218.74 L386.45,217.82 L386.55,217.82 L386.55,216.90 L386.60,216.90 L386.68,216.90 L386.68,215.97 L386.84,215.97 L386.84,215.04 L387.00,215.04 L387.00,214.11 L387.16,214.11 L387.16,213.18 L387.32,213.18 L387.32,212.25 L387.48,212.25 L387.48,211.32 L387.64,211.32 L387.64,210.39 L387.80,210.39 L387.80,209.46 L387.96,209.46 L387.96,208.53 L388.12,208.53 L388.12,207.60 L388.20,207.60 L388.29,207.60 L388.29,206.64 L388.47,206.64 L388.47,205.67 L388.65,205.67 L388.65,204.71 L388.84,204.71 L388.84,203.75 L389.02,203.75 L389.02,202.78 L389.20,202.78 L389.20,201.82 L389.38,201.82 L389.38,200.85 L389.56,200.85 L389.56,199.89 L389.75,199.89 L389.75,198.93 L389.93,198.93 L389.93,197.96 L390.11,197.96 L390.11,197.00 L390.20,197.00 L390.29,197.00 L390.29,196.05 L390.47,196.05 L390.47,195.09 L390.65,195.09 L390.65,194.14 L390.84,194.14 L390.84,193.18 L391.02,193.18 L391.02,192.23 L391.20,192.23 L391.20,191.27 L391.38,191.27 L391.38,190.32 L391.56,190.32 L391.56,189.36 L391.75,189.36 L391.75,188.41 L391.93,188.41 L391.93,187.45 L392.11,187.45 L392.11,186.50 L392.20,186.50 L392.30,186.50 L392.30,185.57 L392.50,185.57 L392.50,184.64 L392.70,184.64 L392.70,183.71 L392.90,183.71 L392.90,182.78 L393.10,182.78 L393.10,181.85 L393.30,181.85 L393.30,180.92 L393.50,180.92 L393.50,179.99 L393.70,179.99 L393.70,179.06 L393.90,179.06 L393.90,178.13 L394.10,178.13 L394.10,177.20 L394.20,177.20 L394.28,177.20 L394.28,176.21 L394.44,176.21 L394.44,175.22 L394.61,175.22 L394.61,174.24 L394.77,174.24 L394.77,173.25 L394.93,173.25 L394.93,172.26 L395.09,172.26 L395.09,171.28 L395.26,171.28 L395.26,170.29 L395.42,170.29 L395.42,169.30 L395.50,169.30 L395.62,169.30 L395.62,168.37 L395.88,168.37 L395.88,167.44 L396.12,167.44 L396.12,166.51 L396.38,166.51 L396.38,165.58 L396.62,165.58 L396.62,164.65 L396.88,164.65 L396.88,163.72 L397.12,163.72 L397.12,162.79 L397.38,162.79 L397.38,161.86 L397.62,161.86 L397.62,160.93 L397.88,160.93 L397.88,160.00 L398.00,160.00 L398.08,160.00 L398.08,159.02 L398.23,159.02 L398.23,158.04 L398.38,158.04 L398.38,157.06 L398.54,157.06 L398.54,156.08 L398.69,156.08 L398.69,155.10 L398.84,155.10 L398.84,154.12 L399.00,154.12 L399.00,153.14 L399.15,153.14 L399.15,152.16 L399.30,152.16 L399.30,151.18 L399.46,151.18 L399.46,150.20 L399.61,150.20 L399.61,149.22 L399.76,149.22 L399.76,148.24 L399.92,148.24 L399.92,147.26 L400.07,147.26 L400.07,146.28 L400.22,146.28 L400.22,145.30 L400.30,145.30 L400.40,145.30 L400.40,144.32 L400.60,144.32 L400.60,143.34 L400.80,143.34 L400.80,142.37 L401.00,142.37 L401.00,141.39 L401.20,141.39 L401.20,140.41 L401.40,140.41 L401.40,139.43 L401.60,139.43 L401.60,138.46 L401.80,138.46 L401.80,137.48 L402.00,137.48 L402.00,136.50 L402.10,136.50 L402.19,136.50 L402.19,135.56 L402.36,135.56 L402.36,134.63 L402.53,134.63 L402.53,133.69 L402.70,133.69 L402.70,132.75 L402.88,132.75 L402.88,131.82 L403.05,131.82 L403.05,130.88 L403.22,130.88 L403.22,129.95 L403.40,129.95 L403.40,129.01 L403.57,129.01 L403.57,128.07 L403.74,128.07 L403.74,127.14 L403.91,127.14 L403.91,126.20 L404.00,126.20 L404.09,126.20 L404.09,125.28 L404.26,125.28 L404.26,124.35 L404.44,124.35 L404.44,123.42 L404.61,123.42 L404.61,122.50 L404.79,122.50 L404.79,121.58 L404.96,121.58 L404.96,120.65 L405.14,120.65 L405.14,119.72 L405.31,119.72 L405.31,118.80 L405.40,118.80 L405.65,118.80 L405.65,117.82 L406.15,117.82 L406.15,116.83 L406.65,116.83 L406.65,115.85 L407.15,115.85 L407.15,114.87 L407.65,114.87 L407.65,113.88 L408.15,113.88 L408.15,112.90 L408.40,112.90 L408.71,112.90 L408.71,111.93 L409.32,111.93 L409.32,110.97 L409.94,110.97 L409.94,110.00 L410.56,110.00 L410.56,109.03 L411.18,109.03 L411.18,108.07 L411.79,108.07 L411.79,107.10 L412.10,107.10 L412.21,107.10 L412.21,106.17 L412.42,106.17 L412.42,105.25 L412.63,105.25 L412.63,104.33 L412.84,104.33 L412.84,103.40 L413.06,103.40 L413.06,102.47 L413.27,102.47 L413.27,101.55 L413.48,101.55 L413.48,100.62 L413.69,100.62 L413.69,99.70 L413.80,99.70 L413.87,99.70 L413.87,98.72 L414.00,98.72 L414.00,97.74 L414.13,97.74 L414.13,96.77 L414.27,96.77 L414.27,95.79 L414.40,95.79 L414.40,94.81 L414.53,94.81 L414.53,93.83 L414.67,93.83 L414.67,92.86 L414.80,92.86 L414.80,91.88 L414.93,91.88 L414.93,90.90 L415.00,90.90 L415.18,90.90 L415.18,89.92 L415.55,89.92 L415.55,88.93 L415.92,88.93 L415.92,87.95 L416.28,87.95 L416.28,86.97 L416.65,86.97 L416.65,85.98 L417.02,85.98 L417.02,85.00 L417.20,85.00 L417.43,85.00 L417.43,84.08 L417.89,84.08 L417.89,83.15 L418.36,83.15 L418.36,82.22 L418.82,82.22 L418.82,81.30 L419.28,81.30 L419.28,80.38 L419.74,80.38 L419.74,79.45 L420.21,79.45 L420.21,78.52 L420.67,78.52 L420.67,77.60 L420.90,77.60 L420.99,77.60 L420.99,76.65 L421.16,76.65 L421.16,75.70 L421.34,75.70 L421.34,74.75 L421.51,74.75 L421.51,73.80 L421.69,73.80 L421.69,72.85 L421.86,72.85 L421.86,71.90 L422.04,71.90 L422.04,70.95 L422.21,70.95 L422.21,70.00 L422.30,70.00 L422.44,70.00 L422.44,69.03 L422.70,69.03 L422.70,68.06 L422.98,68.06 L422.98,67.09 L423.25,67.09 L423.25,66.12 L423.51,66.12 L423.51,65.15 L423.79,65.15 L423.79,64.18 L424.06,64.18 L424.06,63.21 L424.32,63.21 L424.32,62.24 L424.60,62.24 L424.60,61.27 L424.87,61.27 L424.87,60.30 L425.00,60.30 L425.20,60.30 L425.20,59.52 L425.60,59.52 L425.60,58.75 L426.00,58.75 L426.00,57.98 L426.40,57.98 L426.40,57.20 L426.60,57.20 L432.30,57.20 L432.51,57.20 L432.51,56.23 L432.94,56.23 L432.94,55.25 L433.36,55.25 L433.36,54.27 L433.79,54.27 L433.79,53.30 L434.00,53.30 L435.75,53.30 L435.75,52.40 L437.50,52.40 L441.90,52.40 L441.90,52.00 L446.30,52.00 L446.88,52.00 L446.88,51.27 L448.05,51.27 L448.05,50.53 L449.22,50.53 L449.22,49.80 L449.80,49.80 L450.68,49.80 L450.68,48.90 L452.43,48.90 L452.43,48.00 L453.30,48.00 L453.73,48.00 L453.73,47.15 L454.57,47.15 L454.57,46.30 L455.00,46.30 L459.40,46.30 L459.40,45.80 L463.80,45.80 L464.68,45.80 L464.68,45.15 L466.43,45.15 L466.43,44.50 L467.30,44.50 L468.18,44.50 L468.18,43.85 L469.93,43.85 L469.93,43.20 L470.80,43.20 L475.40,43.20 L475.40,42.70 L480.00,42.70 L600.00,42.70 L605.00,42.70 L605.00,43.00 L610.00,43.00 L644.70,43.00 L644.70,41.90 L658.60,41.90" fill="none" stroke="#000" stroke-width="3.75" stroke-linejoin="round"  clip-path="url(#c10)"/>
<path d="M56.60,619.25 L125.00,619.25 L125.00,610.20 L138.00,610.20 L138.00,584.50 L165.20,584.50 L165.20,566.00 L206.50,566.00 L206.50,517.60 L220.70,517.60 L220.70,348.40 L354.30,348.40" fill="none" stroke="#000" stroke-width="3.75" stroke-linejoin="round" stroke-dasharray="15.3 7.96" clip-path="url(#c01)"/>
<path d="M56.60,619.25 L80.00,619.25 L80.34,619.25 L80.34,618.33 L81.03,618.33 L81.03,617.40 L81.71,617.40 L81.71,616.48 L82.39,616.48 L82.39,615.55 L83.07,615.55 L83.07,614.62 L83.76,614.62 L83.76,613.70 L84.10,613.70 L84.71,613.70 L84.71,612.78 L85.94,612.78 L85.94,611.85 L87.16,611.85 L87.16,610.92 L88.39,610.92 L88.39,610.00 L89.00,610.00 L89.64,610.00 L89.64,609.20 L90.91,609.20 L90.91,608.40 L92.19,608.40 L92.19,607.60 L93.46,607.60 L93.46,606.80 L94.10,606.80 L94.41,606.80 L94.41,605.86 L95.03,605.86 L95.03,604.92 L95.65,604.92 L95.65,603.98 L96.27,603.98 L96.27,603.04 L96.89,603.04 L96.89,602.10 L97.51,602.10 L97.51,601.16 L98.13,601.16 L98.13,600.22 L98.75,600.22 L98.75,599.28 L99.37,599.28 L99.37,598.34 L99.99,598.34 L99.99,597.40 L100.30,597.40 L100.58,597.40 L100.58,596.40 L101.14,596.40 L101.14,595.40 L101.70,595.40 L101.70,594.40 L102.26,594.40 L102.26,593.40 L102.82,593.40 L102.82,592.40 L103.38,592.40 L103.38,591.40 L103.94,591.40 L103.94,590.40 L104.50,590.40 L104.50,589.40 L105.06,589.40 L105.06,588.40 L105.62,588.40 L105.62,587.40 L105.90,587.40 L106.00,587.40 L106.00,586.42 L106.21,586.42 L106.21,585.43 L106.42,585.43 L106.42,584.45 L106.63,584.45 L106.63,583.47 L106.84,583.47 L106.84,582.48 L107.05,582.48 L107.05,581.50 L107.25,581.50 L107.25,580.52 L107.46,580.52 L107.46,579.53 L107.67,579.53 L107.67,578.55 L107.88,578.55 L107.88,577.57 L108.09,577.57 L108.09,576.58 L108.30,576.58 L108.30,575.60 L108.40,575.60 L108.51,575.60 L108.51,574.66 L108.74,574.66 L108.74,573.73 L108.97,573.73 L108.97,572.79 L109.20,572.79 L109.20,571.86 L109.43,571.86 L109.43,570.92 L109.66,570.92 L109.66,569.99 L109.89,569.99 L109.89,569.05 L110.11,569.05 L110.11,568.11 L110.34,568.11 L110.34,567.18 L110.57,567.18 L110.57,566.24 L110.80,566.24 L110.80,565.31 L111.03,565.31 L111.03,564.37 L111.26,564.37 L111.26,563.44 L111.49,563.44 L111.49,562.50 L111.60,562.50 L111.72,562.50 L111.72,561.54 L111.96,561.54 L111.96,560.58 L112.20,560.58 L112.20,559.62 L112.43,559.62 L112.43,558.65 L112.67,558.65 L112.67,557.69 L112.91,557.69 L112.91,556.73 L113.15,556.73 L113.15,555.77 L113.39,555.77 L113.39,554.81 L113.63,554.81 L113.63,553.85 L113.87,553.85 L113.87,552.88 L114.10,552.88 L114.10,551.92 L114.34,551.92 L114.34,550.96 L114.58,550.96 L114.58,550.00 L114.70,550.00 L114.83,550.00 L114.83,549.00 L115.09,549.00 L115.09,548.00 L115.35,548.00 L115.35,547.00 L115.60,547.00 L115.60,546.00 L115.86,546.00 L115.86,545.00 L116.12,545.00 L116.12,544.00 L116.38,544.00 L116.38,543.00 L116.64,543.00 L116.64,542.00 L116.90,542.00 L116.90,541.00 L117.15,541.00 L117.15,540.00 L117.41,540.00 L117.41,539.00 L117.67,539.00 L117.67,538.00 L117.80,538.00 L117.92,538.00 L117.92,537.01 L118.16,537.01 L118.16,536.01 L118.41,536.01 L118.41,535.02 L118.65,535.02 L118.65,534.03 L118.89,534.03 L118.89,533.04 L119.14,533.04 L119.14,532.04 L119.38,532.04 L119.38,531.05 L119.62,531.05 L119.62,530.06 L119.86,530.06 L119.86,529.06 L120.11,529.06 L120.11,528.07 L120.35,528.07 L120.35,527.08 L120.59,527.08 L120.59,526.09 L120.84,526.09 L120.84,525.09 L121.08,525.09 L121.08,524.10 L121.20,524.10 L121.29,524.10 L121.29,523.15 L121.47,523.15 L121.47,522.19 L121.64,522.19 L121.64,521.24 L121.82,521.24 L121.82,520.28 L122.00,520.28 L122.00,519.33 L122.17,519.33 L122.17,518.38 L122.35,518.38 L122.35,517.42 L122.53,517.42 L122.53,516.47 L122.70,516.47 L122.70,515.52 L122.88,515.52 L122.88,514.56 L123.06,514.56 L123.06,513.61 L123.23,513.61 L123.23,512.65 L123.41,512.65 L123.41,511.70 L123.50,511.70 L123.59,511.70 L123.59,510.71 L123.76,510.71 L123.76,509.71 L123.93,509.71 L123.93,508.72 L124.10,508.72 L124.10,507.73 L124.27,507.73 L124.27,506.74 L124.44,506.74 L124.44,505.74 L124.61,505.74 L124.61,504.75 L124.79,504.75 L124.79,503.76 L124.96,503.76 L124.96,502.76 L125.13,502.76 L125.13,501.77 L125.30,501.77 L125.30,500.78 L125.47,500.78 L125.47,499.79 L125.64,499.79 L125.64,498.79 L125.81,498.79 L125.81,497.80 L125.90,497.80 L125.97,497.80 L125.97,496.85 L126.11,496.85 L126.11,495.91 L126.25,495.91 L126.25,494.96 L126.38,494.96 L126.38,494.02 L126.52,494.02 L126.52,493.07 L126.66,493.07 L126.66,492.12 L126.80,492.12 L126.80,491.18 L126.94,491.18 L126.94,490.23 L127.08,490.23 L127.08,489.28 L127.22,489.28 L127.22,488.34 L127.35,488.34 L127.35,487.39 L127.49,487.39 L127.49,486.45 L127.63,486.45 L127.63,485.50 L127.70,485.50 L127.79,485.50 L127.79,484.51 L127.97,484.51 L127.97,483.51 L128.15,483.51 L128.15,482.52 L128.32,482.52 L128.32,481.53 L128.50,481.53 L128.50,480.54 L128.68,480.54 L128.68,479.54 L128.86,479.54 L128.86,478.55 L129.04,478.55 L129.04,477.56 L129.22,477.56 L129.22,476.56 L129.40,476.56 L129.40,475.57 L129.57,475.57 L129.57,474.58 L129.75,474.58 L129.75,473.59 L129.93,473.59 L129.93,472.59 L130.11,472.59 L130.11,471.60 L130.20,471.60 L130.32,471.60 L130.32,470.66 L130.56,470.66 L130.56,469.73 L130.81,469.73 L130.81,468.79 L131.05,468.79 L131.05,467.86 L131.29,467.86 L131.29,466.92 L131.54,466.92 L131.54,465.99 L131.78,465.99 L131.78,465.05 L132.02,465.05 L132.02,464.11 L132.26,464.11 L132.26,463.18 L132.51,463.18 L132.51,462.24 L132.75,462.24 L132.75,461.31 L132.99,461.31 L132.99,460.37 L133.24,460.37 L133.24,459.44 L133.48,459.44 L133.48,458.50 L133.60,458.50 L133.72,458.50 L133.72,457.52 L133.97,457.52 L133.97,456.54 L134.21,456.54 L134.21,455.55 L134.46,455.55 L134.46,454.57 L134.70,454.57 L134.70,453.59 L134.95,453.59 L134.95,452.61 L135.20,452.61 L135.20,451.63 L135.44,451.63 L135.44,450.65 L135.69,450.65 L135.69,449.66 L135.93,449.66 L135.93,448.68 L136.18,448.68 L136.18,447.70 L136.30,447.70 L136.42,447.70 L136.42,446.75 L136.65,446.75 L136.65,445.80 L136.89,445.80 L136.89,444.85 L137.12,444.85 L137.12,443.90 L137.36,443.90 L137.36,442.95 L137.60,442.95 L137.60,442.00 L137.83,442.00 L137.83,441.05 L138.07,441.05 L138.07,440.10 L138.30,440.10 L138.30,439.15 L138.54,439.15 L138.54,438.20 L138.78,438.20 L138.78,437.25 L139.01,437.25 L139.01,436.30 L139.25,436.30 L139.25,435.35 L139.48,435.35 L139.48,434.40 L139.60,434.40 L139.71,434.40 L139.71,433.44 L139.94,433.44 L139.94,432.48 L140.16,432.48 L140.16,431.52 L140.39,431.52 L140.39,430.57 L140.61,430.57 L140.61,429.61 L140.84,429.61 L140.84,428.65 L141.06,428.65 L141.06,427.69 L141.29,427.69 L141.29,426.73 L141.51,426.73 L141.51,425.77 L141.74,425.77 L141.74,424.82 L141.96,424.82 L141.96,423.86 L142.19,423.86 L142.19,422.90 L142.30,422.90 L142.42,422.90 L142.42,421.95 L142.66,421.95 L142.66,420.99 L142.90,420.99 L142.90,420.04 L143.13,420.04 L143.13,419.08 L143.37,419.08 L143.37,418.13 L143.61,418.13 L143.61,417.18 L143.85,417.18 L143.85,416.22 L144.09,416.22 L144.09,415.27 L144.33,415.27 L144.33,414.32 L144.57,414.32 L144.57,413.36 L144.80,413.36 L144.80,412.41 L145.04,412.41 L145.04,411.45 L145.28,411.45 L145.28,410.50 L145.40,410.50 L145.55,410.50 L145.55,409.55 L145.85,409.55 L145.85,408.61 L146.15,408.61 L146.15,407.66 L146.45,407.66 L146.45,406.72 L146.75,406.72 L146.75,405.77 L147.05,405.77 L147.05,404.82 L147.35,404.82 L147.35,403.88 L147.65,403.88 L147.65,402.93 L147.95,402.93 L147.95,401.98 L148.25,401.98 L148.25,401.04 L148.55,401.04 L148.55,400.09 L148.85,400.09 L148.85,399.15 L149.15,399.15 L149.15,398.20 L149.30,398.20 L149.46,398.20 L149.46,397.23 L149.78,397.23 L149.78,396.27 L150.09,396.27 L150.09,395.30 L150.41,395.30 L150.41,394.33 L150.72,394.33 L150.72,393.37 L151.04,393.37 L151.04,392.40 L151.36,392.40 L151.36,391.43 L151.68,391.43 L151.68,390.47 L151.99,390.47 L151.99,389.50 L152.31,389.50 L152.31,388.53 L152.62,388.53 L152.62,387.57 L152.94,387.57 L152.94,386.60 L153.10,386.60 L153.34,386.60 L153.34,385.60 L153.81,385.60 L153.81,384.60 L154.28,384.60 L154.28,383.60 L154.75,383.60 L154.75,382.60 L155.22,382.60 L155.22,381.60 L155.69,381.60 L155.69,380.60 L156.16,380.60 L156.16,379.60 L156.62,379.60 L156.62,378.60 L157.09,378.60 L157.09,377.60 L157.56,377.60 L157.56,376.60 L157.80,376.60 L158.04,376.60 L158.04,375.62 L158.52,375.62 L158.52,374.64 L159.00,374.64 L159.00,373.65 L159.49,373.65 L159.49,372.67 L159.97,372.67 L159.97,371.69 L160.45,371.69 L160.45,370.71 L160.93,370.71 L160.93,369.73 L161.41,369.73 L161.41,368.75 L161.90,368.75 L161.90,367.76 L162.38,367.76 L162.38,366.78 L162.86,366.78 L162.86,365.80 L163.10,365.80 L163.71,365.80 L163.71,364.81 L164.92,364.81 L164.92,363.83 L166.14,363.83 L166.14,362.84 L167.35,362.84 L167.35,361.86 L168.56,361.86 L168.56,360.87 L169.78,360.87 L169.78,359.89 L170.99,359.89 L170.99,358.90 L171.60,358.90 L172.68,358.90 L172.68,358.04 L174.84,358.04 L174.84,357.18 L177.00,357.18 L177.00,356.32 L179.16,356.32 L179.16,355.46 L181.32,355.46 L181.32,354.60 L182.40,354.60 L184.58,354.60 L184.58,353.70 L188.95,353.70 L188.95,352.80 L193.32,352.80 L193.32,351.90 L195.50,351.90 L198.88,351.90 L198.88,351.20 L205.62,351.20 L205.62,350.50 L209.00,350.50 L214.25,350.50 L214.25,349.75 L224.75,349.75 L224.75,349.00 L230.00,349.00 L292.15,349.00 L292.15,348.40 L354.30,348.40" fill="none" stroke="#000" stroke-width="3.75" stroke-linejoin="round" stroke-dasharray="7.35 8.13" clip-path="url(#c01)"/>
<path d="M56.60,619.25 L68.50,619.25 L68.62,619.25 L68.62,618.42 L68.88,618.42 L68.88,617.60 L69.00,617.60 L76.00,617.60 L76.25,617.60 L76.25,616.78 L76.75,616.78 L76.75,615.96 L77.25,615.96 L77.25,615.14 L77.75,615.14 L77.75,614.32 L78.25,614.32 L78.25,613.50 L78.50,613.50 L78.80,613.50 L78.80,612.50 L79.40,612.50 L79.40,611.50 L80.00,611.50 L80.00,610.50 L80.60,610.50 L80.60,609.50 L81.20,609.50 L81.20,608.50 L81.50,608.50 L81.72,608.50 L81.72,607.62 L82.17,607.62 L82.17,606.74 L82.62,606.74 L82.62,605.86 L83.08,605.86 L83.08,604.98 L83.53,604.98 L83.53,604.10 L83.75,604.10 L83.91,604.10 L83.91,603.10 L84.23,603.10 L84.23,602.10 L84.55,602.10 L84.55,601.10 L84.87,601.10 L84.87,600.10 L85.18,600.10 L85.18,599.10 L85.50,599.10 L85.50,598.10 L85.82,598.10 L85.82,597.10 L86.14,597.10 L86.14,596.10 L86.30,596.10 L86.46,596.10 L86.46,595.23 L86.79,595.23 L86.79,594.36 L87.12,594.36 L87.12,593.49 L87.45,593.49 L87.45,592.61 L87.78,592.61 L87.78,591.74 L88.11,591.74 L88.11,590.87 L88.44,590.87 L88.44,590.00 L88.60,590.00 L88.81,590.00 L88.81,589.05 L89.24,589.05 L89.24,588.10 L89.66,588.10 L89.66,587.15 L90.09,587.15 L90.09,586.20 L90.30,586.20 L90.49,586.20 L90.49,585.24 L90.86,585.24 L90.86,584.29 L91.23,584.29 L91.23,583.33 L91.60,583.33 L91.60,582.37 L91.97,582.37 L91.97,581.41 L92.34,581.41 L92.34,580.46 L92.71,580.46 L92.71,579.50 L92.90,579.50 L92.97,579.50 L92.97,578.58 L93.10,578.58 L93.10,577.66 L93.23,577.66 L93.23,576.73 L93.37,576.73 L93.37,575.81 L93.50,575.81 L93.50,574.89 L93.63,574.89 L93.63,573.97 L93.77,573.97 L93.77,573.04 L93.90,573.04 L93.90,572.12 L94.03,572.12 L94.03,571.20 L94.10,571.20 L94.17,571.20 L94.17,570.23 L94.30,570.23 L94.30,569.27 L94.43,569.27 L94.43,568.30 L94.57,568.30 L94.57,567.33 L94.70,567.33 L94.70,566.37 L94.83,566.37 L94.83,565.40 L94.97,565.40 L94.97,564.43 L95.10,564.43 L95.10,563.47 L95.23,563.47 L95.23,562.50 L95.30,562.50 L95.46,562.50 L95.46,561.56 L95.77,561.56 L95.77,560.62 L96.08,560.62 L96.08,559.69 L96.39,559.69 L96.39,558.75 L96.71,558.75 L96.71,557.81 L97.02,557.81 L97.02,556.88 L97.33,556.88 L97.33,555.94 L97.64,555.94 L97.64,555.00 L97.80,555.00 L97.92,555.00 L97.92,554.06 L98.16,554.06 L98.16,553.12 L98.39,553.12 L98.39,552.19 L98.63,552.19 L98.63,551.25 L98.87,551.25 L98.87,550.31 L99.11,550.31 L99.11,549.38 L99.34,549.38 L99.34,548.44 L99.58,548.44 L99.58,547.50 L99.70,547.50 L99.81,547.50 L99.81,546.60 L100.03,546.60 L100.03,545.70 L100.25,545.70 L100.25,544.80 L100.47,544.80 L100.47,543.90 L100.69,543.90 L100.69,543.00 L100.80,543.00 L100.88,543.00 L100.88,542.00 L101.04,542.00 L101.04,541.00 L101.20,541.00 L101.20,540.00 L101.35,540.00 L101.35,539.00 L101.51,539.00 L101.51,538.00 L101.67,538.00 L101.67,537.00 L101.83,537.00 L101.83,536.00 L101.99,536.00 L101.99,535.00 L102.15,535.00 L102.15,534.00 L102.30,534.00 L102.30,533.00 L102.46,533.00 L102.46,532.00 L102.62,532.00 L102.62,531.00 L102.70,531.00 L102.81,531.00 L102.81,530.05 L103.02,530.05 L103.02,529.11 L103.24,529.11 L103.24,528.16 L103.45,528.16 L103.45,527.22 L103.67,527.22 L103.67,526.27 L103.88,526.27 L103.88,525.32 L104.10,525.32 L104.10,524.38 L104.32,524.38 L104.32,523.43 L104.53,523.43 L104.53,522.48 L104.75,522.48 L104.75,521.54 L104.96,521.54 L104.96,520.59 L105.18,520.59 L105.18,519.65 L105.39,519.65 L105.39,518.70 L105.50,518.70 L105.63,518.70 L105.63,517.77 L105.89,517.77 L105.89,516.84 L106.15,516.84 L106.15,515.91 L106.41,515.91 L106.41,514.98 L106.67,514.98 L106.67,514.05 L106.93,514.05 L106.93,513.12 L107.19,513.12 L107.19,512.19 L107.45,512.19 L107.45,511.26 L107.71,511.26 L107.71,510.33 L107.97,510.33 L107.97,509.40 L108.10,509.40 L108.29,509.40 L108.29,508.44 L108.68,508.44 L108.68,507.47 L109.07,507.47 L109.07,506.51 L109.46,506.51 L109.46,505.55 L109.84,505.55 L109.84,504.59 L110.23,504.59 L110.23,503.62 L110.62,503.62 L110.62,502.66 L111.01,502.66 L111.01,501.70 L111.20,501.70 L111.36,501.70 L111.36,500.77 L111.67,500.77 L111.67,499.84 L111.97,499.84 L111.97,498.91 L112.28,498.91 L112.28,497.98 L112.59,497.98 L112.59,497.05 L112.91,497.05 L112.91,496.12 L113.22,496.12 L113.22,495.19 L113.53,495.19 L113.53,494.26 L113.83,494.26 L113.83,493.33 L114.14,493.33 L114.14,492.40 L114.30,492.40 L114.49,492.40 L114.49,491.44 L114.88,491.44 L114.88,490.47 L115.27,490.47 L115.27,489.51 L115.66,489.51 L115.66,488.55 L116.04,488.55 L116.04,487.59 L116.43,487.59 L116.43,486.62 L116.82,486.62 L116.82,485.66 L117.21,485.66 L117.21,484.70 L117.40,484.70 L117.59,484.70 L117.59,483.74 L117.98,483.74 L117.98,482.77 L118.37,482.77 L118.37,481.81 L118.76,481.81 L118.76,480.85 L119.14,480.85 L119.14,479.89 L119.53,479.89 L119.53,478.93 L119.92,478.93 L119.92,477.96 L120.31,477.96 L120.31,477.00 L120.50,477.00 L120.71,477.00 L120.71,476.11 L121.14,476.11 L121.14,475.23 L121.57,475.23 L121.57,474.34 L122.00,474.34 L122.00,473.46 L122.43,473.46 L122.43,472.57 L122.86,472.57 L122.86,471.69 L123.29,471.69 L123.29,470.80 L123.50,470.80 L123.69,470.80 L123.69,469.84 L124.08,469.84 L124.08,468.88 L124.47,468.88 L124.47,467.91 L124.86,467.91 L124.86,466.95 L125.24,466.95 L125.24,465.99 L125.63,465.99 L125.63,465.03 L126.02,465.03 L126.02,464.06 L126.41,464.06 L126.41,463.10 L126.60,463.10 L126.79,463.10 L126.79,462.14 L127.18,462.14 L127.18,461.18 L127.57,461.18 L127.57,460.21 L127.96,460.21 L127.96,459.25 L128.34,459.25 L128.34,458.29 L128.73,458.29 L128.73,457.32 L129.12,457.32 L129.12,456.36 L129.51,456.36 L129.51,455.40 L129.70,455.40 L129.92,455.40 L129.92,454.53 L130.36,454.53 L130.36,453.66 L130.81,453.66 L130.81,452.79 L131.25,452.79 L131.25,451.91 L131.69,451.91 L131.69,451.04 L132.14,451.04 L132.14,450.17 L132.58,450.17 L132.58,449.30 L132.80,449.30 L133.14,449.30 L133.14,448.48 L133.81,448.48 L133.81,447.65 L134.49,447.65 L134.49,446.82 L135.16,446.82 L135.16,446.00 L135.50,446.00 L135.82,446.00 L135.82,445.10 L136.45,445.10 L136.45,444.20 L137.08,444.20 L137.08,443.30 L137.72,443.30 L137.72,442.40 L138.35,442.40 L138.35,441.50 L138.98,441.50 L138.98,440.60 L139.30,440.60 L139.59,440.60 L139.59,439.64 L140.16,439.64 L140.16,438.68 L140.74,438.68 L140.74,437.71 L141.31,437.71 L141.31,436.75 L141.89,436.75 L141.89,435.79 L142.46,435.79 L142.46,434.82 L143.04,434.82 L143.04,433.86 L143.61,433.86 L143.61,432.90 L143.90,432.90 L144.17,432.90 L144.17,432.01 L144.71,432.01 L144.71,431.13 L145.26,431.13 L145.26,430.24 L145.80,430.24 L145.80,429.36 L146.34,429.36 L146.34,428.47 L146.89,428.47 L146.89,427.59 L147.43,427.59 L147.43,426.70 L147.70,426.70 L147.98,426.70 L147.98,425.81 L148.54,425.81 L148.54,424.93 L149.09,424.93 L149.09,424.04 L149.65,424.04 L149.65,423.16 L150.21,423.16 L150.21,422.27 L150.76,422.27 L150.76,421.39 L151.32,421.39 L151.32,420.50 L151.60,420.50 L151.92,420.50 L151.92,419.62 L152.55,419.62 L152.55,418.73 L153.18,418.73 L153.18,417.85 L153.82,417.85 L153.82,416.97 L154.45,416.97 L154.45,416.08 L155.08,416.08 L155.08,415.20 L155.40,415.20 L155.79,415.20 L155.79,414.30 L156.57,414.30 L156.57,413.40 L157.36,413.40 L157.36,412.50 L158.14,412.50 L158.14,411.60 L158.93,411.60 L158.93,410.70 L159.71,410.70 L159.71,409.80 L160.10,409.80 L160.29,409.80 L160.29,408.82 L160.66,408.82 L160.66,407.85 L161.04,407.85 L161.04,406.88 L161.41,406.88 L161.41,405.90 L161.79,405.90 L161.79,404.93 L162.16,404.93 L162.16,403.95 L162.54,403.95 L162.54,402.98 L162.91,402.98 L162.91,402.00 L163.10,402.00 L163.50,402.00 L163.50,401.00 L164.30,401.00 L164.30,400.00 L165.10,400.00 L165.10,399.00 L165.50,399.00 L166.11,399.00 L166.11,398.06 L167.33,398.06 L167.33,397.12 L168.55,397.12 L168.55,396.18 L169.77,396.18 L169.77,395.24 L170.99,395.24 L170.99,394.30 L171.60,394.30 L172.19,394.30 L172.19,393.35 L173.36,393.35 L173.36,392.40 L174.54,392.40 L174.54,391.45 L175.71,391.45 L175.71,390.50 L176.30,390.50 L176.88,390.50 L176.88,389.73 L178.03,389.73 L178.03,388.95 L179.18,388.95 L179.18,388.17 L180.33,388.17 L180.33,387.40 L180.90,387.40 L181.66,387.40 L181.66,386.42 L183.19,386.42 L183.19,385.45 L184.71,385.45 L184.71,384.48 L186.24,384.48 L186.24,383.50 L187.00,383.50 L187.68,383.50 L187.68,382.55 L189.03,382.55 L189.03,381.60 L190.38,381.60 L190.38,380.65 L191.72,380.65 L191.72,379.70 L192.40,379.70 L192.89,379.70 L192.89,378.93 L193.86,378.93 L193.86,378.15 L194.84,378.15 L194.84,377.38 L195.81,377.38 L195.81,376.60 L196.30,376.60 L197.05,376.60 L197.05,375.90 L198.55,375.90 L198.55,375.20 L200.05,375.20 L200.05,374.50 L200.80,374.50 L202.28,374.50 L202.28,373.90 L205.22,373.90 L205.22,373.30 L206.70,373.30 L208.15,373.30 L208.15,372.70 L211.05,372.70 L211.05,372.10 L212.50,372.10 L213.48,372.10 L213.48,371.13 L215.45,371.13 L215.45,370.17 L217.42,370.17 L217.42,369.20 L218.40,369.20 L219.37,369.20 L219.37,368.43 L221.30,368.43 L221.30,367.67 L223.23,367.67 L223.23,366.90 L224.20,366.90 L225.65,366.90 L225.65,366.20 L228.55,366.20 L228.55,365.50 L230.00,365.50 L234.70,365.50 L234.70,364.50 L239.40,364.50 L240.55,364.50 L240.55,363.95 L242.85,363.95 L242.85,363.40 L244.00,363.40 L246.35,363.40 L246.35,362.70 L251.05,362.70 L251.05,362.00 L253.40,362.00 L255.15,362.00 L255.15,361.40 L258.65,361.40 L258.65,360.80 L260.40,360.80 L262.75,360.80 L262.75,360.10 L265.10,360.10 L275.40,360.10 L275.40,355.60 L278.70,355.60 L278.70,355.00 L282.00,355.00 L284.98,355.00 L284.98,354.10 L290.92,354.10 L290.92,353.20 L293.90,353.20 L296.90,353.20 L296.90,352.60 L302.90,352.60 L302.90,352.00 L305.90,352.00 L308.90,352.00 L308.90,351.40 L311.90,351.40 L314.90,351.40 L314.90,350.80 L320.90,350.80 L320.90,350.20 L323.90,350.20 L326.88,350.20 L326.88,349.60 L332.82,349.60 L332.82,349.00 L335.80,349.00 L345.05,349.00 L345.05,348.40 L354.30,348.40" fill="none" stroke="#000" stroke-width="3.75" stroke-linejoin="round"  clip-path="url(#c01)"/>
<path d="M360.90,619.25 L384.40,619.25 L384.40,609.90 L442.20,609.90 L442.20,517.70 L510.20,517.70 L510.20,348.40 L658.60,348.40" fill="none" stroke="#000" stroke-width="3.75" stroke-linejoin="round" stroke-dasharray="15.3 7.96" clip-path="url(#c11)"/>
<path d="M360.90,619.25 L384.00,619.25 L384.50,619.25 L384.50,618.44 L385.50,618.44 L385.50,617.62 L386.50,617.62 L386.50,616.81 L387.50,616.81 L387.50,616.00 L388.00,616.00 L388.33,616.00 L388.33,615.00 L389.00,615.00 L389.00,614.00 L389.67,614.00 L389.67,613.00 L390.33,613.00 L390.33,612.00 L391.00,612.00 L391.00,611.00 L391.67,611.00 L391.67,610.00 L392.00,610.00 L392.26,610.00 L392.26,609.15 L392.77,609.15 L392.77,608.30 L393.29,608.30 L393.29,607.45 L393.81,607.45 L393.81,606.60 L394.33,606.60 L394.33,605.75 L394.84,605.75 L394.84,604.90 L395.10,604.90 L395.33,604.90 L395.33,603.96 L395.80,603.96 L395.80,603.02 L396.27,603.02 L396.27,602.08 L396.73,602.08 L396.73,601.13 L397.20,601.13 L397.20,600.19 L397.67,600.19 L397.67,599.25 L398.13,599.25 L398.13,598.31 L398.60,598.31 L398.60,597.37 L399.07,597.37 L399.07,596.42 L399.53,596.42 L399.53,595.48 L400.00,595.48 L400.00,594.54 L400.47,594.54 L400.47,593.60 L400.70,593.60 L400.90,593.60 L400.90,592.64 L401.29,592.64 L401.29,591.67 L401.68,591.67 L401.68,590.71 L402.07,590.71 L402.07,589.75 L402.46,589.75 L402.46,588.78 L402.85,588.78 L402.85,587.82 L403.24,587.82 L403.24,586.85 L403.63,586.85 L403.63,585.89 L404.02,585.89 L404.02,584.93 L404.41,584.93 L404.41,583.96 L404.80,583.96 L404.80,583.00 L405.00,583.00 L405.09,583.00 L405.09,582.06 L405.27,582.06 L405.27,581.13 L405.45,581.13 L405.45,580.19 L405.62,580.19 L405.62,579.26 L405.80,579.26 L405.80,578.32 L405.98,578.32 L405.98,577.39 L406.16,577.39 L406.16,576.45 L406.34,576.45 L406.34,575.51 L406.52,575.51 L406.52,574.58 L406.70,574.58 L406.70,573.64 L406.88,573.64 L406.88,572.71 L407.05,572.71 L407.05,571.77 L407.23,571.77 L407.23,570.84 L407.41,570.84 L407.41,569.90 L407.50,569.90 L407.59,569.90 L407.59,568.96 L407.77,568.96 L407.77,568.03 L407.95,568.03 L407.95,567.09 L408.12,567.09 L408.12,566.16 L408.30,566.16 L408.30,565.22 L408.48,565.22 L408.48,564.29 L408.66,564.29 L408.66,563.35 L408.84,563.35 L408.84,562.41 L409.02,562.41 L409.02,561.48 L409.20,561.48 L409.20,560.54 L409.38,560.54 L409.38,559.61 L409.55,559.61 L409.55,558.67 L409.73,558.67 L409.73,557.74 L409.91,557.74 L409.91,556.80 L410.00,556.80 L410.09,556.80 L410.09,555.82 L410.27,555.82 L410.27,554.84 L410.45,554.84 L410.45,553.86 L410.62,553.86 L410.62,552.89 L410.80,552.89 L410.80,551.91 L410.98,551.91 L410.98,550.93 L411.16,550.93 L411.16,549.95 L411.34,549.95 L411.34,548.97 L411.52,548.97 L411.52,547.99 L411.70,547.99 L411.70,547.01 L411.88,547.01 L411.88,546.04 L412.05,546.04 L412.05,545.06 L412.23,545.06 L412.23,544.08 L412.41,544.08 L412.41,543.10 L412.50,543.10 L412.61,543.10 L412.61,542.12 L412.82,542.12 L412.82,541.15 L413.04,541.15 L413.04,540.17 L413.26,540.17 L413.26,539.20 L413.48,539.20 L413.48,538.23 L413.69,538.23 L413.69,537.25 L413.91,537.25 L413.91,536.27 L414.12,536.27 L414.12,535.30 L414.34,535.30 L414.34,534.33 L414.56,534.33 L414.56,533.35 L414.78,533.35 L414.78,532.38 L414.99,532.38 L414.99,531.40 L415.10,531.40 L415.19,531.40 L415.19,530.43 L415.37,530.43 L415.37,529.46 L415.55,529.46 L415.55,528.49 L415.73,528.49 L415.73,527.51 L415.90,527.51 L415.90,526.54 L416.08,526.54 L416.08,525.57 L416.26,525.57 L416.26,524.60 L416.44,524.60 L416.44,523.63 L416.62,523.63 L416.62,522.66 L416.80,522.66 L416.80,521.69 L416.98,521.69 L416.98,520.71 L417.15,520.71 L417.15,519.74 L417.33,519.74 L417.33,518.77 L417.51,518.77 L417.51,517.80 L417.60,517.80 L417.66,517.80 L417.66,516.84 L417.78,516.84 L417.78,515.87 L417.90,515.87 L417.90,514.91 L418.03,514.91 L418.03,513.94 L418.15,513.94 L418.15,512.98 L418.27,512.98 L418.27,512.01 L418.39,512.01 L418.39,511.05 L418.51,511.05 L418.51,510.09 L418.63,510.09 L418.63,509.12 L418.75,509.12 L418.75,508.16 L418.88,508.16 L418.88,507.19 L419.00,507.19 L419.00,506.23 L419.12,506.23 L419.12,505.26 L419.24,505.26 L419.24,504.30 L419.30,504.30 L419.35,504.30 L419.35,503.34 L419.46,503.34 L419.46,502.37 L419.57,502.37 L419.57,501.41 L419.68,501.41 L419.68,500.44 L419.78,500.44 L419.78,499.48 L419.89,499.48 L419.89,498.51 L420.00,498.51 L420.00,497.55 L420.10,497.55 L420.10,496.59 L420.21,496.59 L420.21,495.62 L420.32,495.62 L420.32,494.66 L420.43,494.66 L420.43,493.69 L420.53,493.69 L420.53,492.73 L420.64,492.73 L420.64,491.76 L420.75,491.76 L420.75,490.80 L420.80,490.80 L420.90,490.80 L420.90,489.84 L421.09,489.84 L421.09,488.87 L421.28,488.87 L421.28,487.91 L421.48,487.91 L421.48,486.94 L421.67,486.94 L421.67,485.98 L421.86,485.98 L421.86,485.01 L422.05,485.01 L422.05,484.05 L422.25,484.05 L422.25,483.09 L422.44,483.09 L422.44,482.12 L422.63,482.12 L422.63,481.16 L422.82,481.16 L422.82,480.19 L423.02,480.19 L423.02,479.23 L423.21,479.23 L423.21,478.26 L423.40,478.26 L423.40,477.30 L423.50,477.30 L423.59,477.30 L423.59,476.32 L423.78,476.32 L423.78,475.35 L423.96,475.35 L423.96,474.37 L424.15,474.37 L424.15,473.39 L424.33,473.39 L424.33,472.42 L424.52,472.42 L424.52,471.44 L424.70,471.44 L424.70,470.46 L424.88,470.46 L424.88,469.48 L425.07,469.48 L425.07,468.51 L425.25,468.51 L425.25,467.53 L425.44,467.53 L425.44,466.55 L425.62,466.55 L425.62,465.58 L425.81,465.58 L425.81,464.60 L425.90,464.60 L426.00,464.60 L426.00,463.64 L426.19,463.64 L426.19,462.67 L426.38,462.67 L426.38,461.71 L426.57,461.71 L426.57,460.74 L426.77,460.74 L426.77,459.78 L426.96,459.78 L426.96,458.81 L427.15,458.81 L427.15,457.85 L427.35,457.85 L427.35,456.89 L427.54,456.89 L427.54,455.92 L427.73,455.92 L427.73,454.96 L427.93,454.96 L427.93,453.99 L428.12,453.99 L428.12,453.03 L428.31,453.03 L428.31,452.06 L428.50,452.06 L428.50,451.10 L428.60,451.10 L428.70,451.10 L428.70,450.11 L428.90,450.11 L428.90,449.13 L429.10,449.13 L429.10,448.14 L429.30,448.14 L429.30,447.16 L429.50,447.16 L429.50,446.17 L429.70,446.17 L429.70,445.19 L429.90,445.19 L429.90,444.20 L430.10,444.20 L430.10,443.21 L430.30,443.21 L430.30,442.23 L430.50,442.23 L430.50,441.24 L430.70,441.24 L430.70,440.26 L430.90,440.26 L430.90,439.27 L431.10,439.27 L431.10,438.29 L431.30,438.29 L431.30,437.30 L431.40,437.30 L431.48,437.30 L431.48,436.36 L431.64,436.36 L431.64,435.42 L431.80,435.42 L431.80,434.48 L431.97,434.48 L431.97,433.55 L432.13,433.55 L432.13,432.61 L432.29,432.61 L432.29,431.67 L432.45,431.67 L432.45,430.73 L432.61,430.73 L432.61,429.79 L432.77,429.79 L432.77,428.85 L432.93,428.85 L432.93,427.92 L433.10,427.92 L433.10,426.98 L433.26,426.98 L433.26,426.04 L433.42,426.04 L433.42,425.10 L433.50,425.10 L433.61,425.10 L433.61,424.12 L433.82,424.12 L433.82,423.15 L434.04,423.15 L434.04,422.18 L434.26,422.18 L434.26,421.20 L434.48,421.20 L434.48,420.23 L434.69,420.23 L434.69,419.25 L434.91,419.25 L434.91,418.27 L435.12,418.27 L435.12,417.30 L435.34,417.30 L435.34,416.32 L435.56,416.32 L435.56,415.35 L435.78,415.35 L435.78,414.38 L435.99,414.38 L435.99,413.40 L436.10,413.40 L436.23,413.40 L436.23,412.44 L436.48,412.44 L436.48,411.48 L436.73,411.48 L436.73,410.52 L436.99,410.52 L436.99,409.55 L437.24,409.55 L437.24,408.59 L437.50,408.59 L437.50,407.63 L437.75,407.63 L437.75,406.67 L438.00,406.67 L438.00,405.71 L438.26,405.71 L438.26,404.75 L438.51,404.75 L438.51,403.78 L438.77,403.78 L438.77,402.82 L439.02,402.82 L439.02,401.86 L439.27,401.86 L439.27,400.90 L439.40,400.90 L439.50,400.90 L439.50,399.90 L439.70,399.90 L439.70,398.90 L439.90,398.90 L439.90,397.90 L440.10,397.90 L440.10,396.90 L440.30,396.90 L440.30,395.90 L440.50,395.90 L440.50,394.90 L440.70,394.90 L440.70,393.90 L440.90,393.90 L440.90,392.90 L441.10,392.90 L441.10,391.90 L441.30,391.90 L441.30,390.90 L441.50,390.90 L441.50,389.90 L441.60,389.90 L441.81,389.90 L441.81,388.91 L442.22,388.91 L442.22,387.93 L442.64,387.93 L442.64,386.94 L443.05,386.94 L443.05,385.96 L443.46,385.96 L443.46,384.97 L443.88,384.97 L443.88,383.99 L444.29,383.99 L444.29,383.00 L444.50,383.00 L444.74,383.00 L444.74,382.07 L445.23,382.07 L445.23,381.13 L445.71,381.13 L445.71,380.20 L446.19,380.20 L446.19,379.27 L446.67,379.27 L446.67,378.33 L447.16,378.33 L447.16,377.40 L447.40,377.40 L447.58,377.40 L447.58,376.42 L447.95,376.42 L447.95,375.45 L448.32,375.45 L448.32,374.47 L448.68,374.47 L448.68,373.50 L449.05,373.50 L449.05,372.52 L449.42,372.52 L449.42,371.55 L449.78,371.55 L449.78,370.57 L450.15,370.57 L450.15,369.60 L450.52,369.60 L450.52,368.62 L450.88,368.62 L450.88,367.65 L451.25,367.65 L451.25,366.68 L451.62,366.68 L451.62,365.70 L451.80,365.70 L452.12,365.70 L452.12,364.76 L452.76,364.76 L452.76,363.82 L453.40,363.82 L453.40,362.88 L454.04,362.88 L454.04,361.94 L454.68,361.94 L454.68,361.00 L455.00,361.00 L455.70,361.00 L455.70,360.10 L457.10,360.10 L457.10,359.20 L458.50,359.20 L458.50,358.30 L459.20,358.30 L460.17,358.30 L460.17,357.37 L462.10,357.37 L462.10,356.43 L464.03,356.43 L464.03,355.50 L465.00,355.50 L466.48,355.50 L466.48,354.70 L469.42,354.70 L469.42,353.90 L470.90,353.90 L472.42,353.90 L472.42,353.10 L475.45,353.10 L475.45,352.30 L478.48,352.30 L478.48,351.50 L480.00,351.50 L490.00,351.50 L490.00,350.80 L500.00,350.80 L505.00,350.80 L505.00,349.90 L515.00,349.90 L515.00,349.00 L520.00,349.00 L530.00,349.00 L530.00,348.40 L540.00,348.40 L658.60,348.40" fill="none" stroke="#000" stroke-width="3.75" stroke-linejoin="round" stroke-dasharray="7.35 8.13" clip-path="url(#c11)"/>
<path d="M360.90,619.25 L375.70,619.25 L375.89,619.25 L375.89,618.36 L376.27,618.36 L376.27,617.47 L376.65,617.47 L376.65,616.58 L377.03,616.58 L377.03,615.69 L377.41,615.69 L377.41,614.80 L377.60,614.80 L377.65,614.80 L377.65,613.85 L377.74,613.85 L377.74,612.89 L377.83,612.89 L377.83,611.94 L377.92,611.94 L377.92,610.98 L378.02,610.98 L378.02,610.03 L378.11,610.03 L378.11,609.08 L378.20,609.08 L378.20,608.12 L378.29,608.12 L378.29,607.17 L378.38,607.17 L378.38,606.22 L378.48,606.22 L378.48,605.26 L378.57,605.26 L378.57,604.31 L378.66,604.31 L378.66,603.35 L378.75,603.35 L378.75,602.40 L378.80,602.40 L378.85,602.40 L378.85,601.44 L378.95,601.44 L378.95,600.48 L379.05,600.48 L379.05,599.52 L379.15,599.52 L379.15,598.55 L379.25,598.55 L379.25,597.59 L379.35,597.59 L379.35,596.63 L379.45,596.63 L379.45,595.67 L379.55,595.67 L379.55,594.71 L379.65,594.71 L379.65,593.75 L379.75,593.75 L379.75,592.78 L379.85,592.78 L379.85,591.82 L379.95,591.82 L379.95,590.86 L380.05,590.86 L380.05,589.90 L380.10,589.90 L380.20,589.90 L380.20,588.90 L380.38,588.90 L380.38,587.90 L380.58,587.90 L380.58,586.90 L380.76,586.90 L380.76,585.90 L380.96,585.90 L380.96,584.90 L381.14,584.90 L381.14,583.90 L381.34,583.90 L381.34,582.90 L381.52,582.90 L381.52,581.90 L381.72,581.90 L381.72,580.90 L381.90,580.90 L381.90,579.90 L382.00,579.90 L382.18,579.90 L382.18,579.01 L382.54,579.01 L382.54,578.13 L382.89,578.13 L382.89,577.24 L383.25,577.24 L383.25,576.36 L383.61,576.36 L383.61,575.47 L383.96,575.47 L383.96,574.59 L384.32,574.59 L384.32,573.70 L384.50,573.70 L384.57,573.70 L384.57,572.77 L384.73,572.77 L384.73,571.83 L384.88,571.83 L384.88,570.90 L385.02,570.90 L385.02,569.97 L385.18,569.97 L385.18,569.03 L385.32,569.03 L385.32,568.10 L385.48,568.10 L385.48,567.17 L385.62,567.17 L385.62,566.23 L385.78,566.23 L385.78,565.30 L385.93,565.30 L385.93,564.37 L386.07,564.37 L386.07,563.43 L386.23,563.43 L386.23,562.50 L386.30,562.50 L386.40,562.50 L386.40,561.56 L386.61,561.56 L386.61,560.62 L386.82,560.62 L386.82,559.67 L387.03,559.67 L387.03,558.73 L387.24,558.73 L387.24,557.79 L387.45,557.79 L387.45,556.85 L387.65,556.85 L387.65,555.91 L387.86,555.91 L387.86,554.97 L388.07,554.97 L388.07,554.03 L388.28,554.03 L388.28,553.08 L388.49,553.08 L388.49,552.14 L388.70,552.14 L388.70,551.20 L388.80,551.20 L388.89,551.20 L388.89,550.28 L389.07,550.28 L389.07,549.36 L389.25,549.36 L389.25,548.44 L389.43,548.44 L389.43,547.52 L389.61,547.52 L389.61,546.60 L389.79,546.60 L389.79,545.68 L389.97,545.68 L389.97,544.76 L390.15,544.76 L390.15,543.84 L390.33,543.84 L390.33,542.92 L390.51,542.92 L390.51,542.00 L390.60,542.00 L390.81,542.00 L390.81,541.00 L391.22,541.00 L391.22,540.00 L391.63,540.00 L391.63,539.00 L392.04,539.00 L392.04,538.00 L392.45,538.00 L392.45,537.00 L392.86,537.00 L392.86,536.00 L393.27,536.00 L393.27,535.00 L393.68,535.00 L393.68,534.00 L394.09,534.00 L394.09,533.00 L394.30,533.00 L394.39,533.00 L394.39,532.02 L394.57,532.02 L394.57,531.03 L394.76,531.03 L394.76,530.05 L394.94,530.05 L394.94,529.07 L395.12,529.07 L395.12,528.08 L395.31,528.08 L395.31,527.10 L395.49,527.10 L395.49,526.12 L395.68,526.12 L395.68,525.13 L395.86,525.13 L395.86,524.15 L396.04,524.15 L396.04,523.17 L396.23,523.17 L396.23,522.18 L396.41,522.18 L396.41,521.20 L396.50,521.20 L396.58,521.20 L396.58,520.22 L396.75,520.22 L396.75,519.23 L396.92,519.23 L396.92,518.25 L397.08,518.25 L397.08,517.27 L397.25,517.27 L397.25,516.28 L397.42,516.28 L397.42,515.30 L397.58,515.30 L397.58,514.32 L397.75,514.32 L397.75,513.33 L397.92,513.33 L397.92,512.35 L398.08,512.35 L398.08,511.37 L398.25,511.37 L398.25,510.38 L398.42,510.38 L398.42,509.40 L398.50,509.40 L398.60,509.40 L398.60,508.42 L398.81,508.42 L398.81,507.43 L399.02,507.43 L399.02,506.45 L399.23,506.45 L399.23,505.47 L399.44,505.47 L399.44,504.48 L399.65,504.48 L399.65,503.50 L399.85,503.50 L399.85,502.52 L400.06,502.52 L400.06,501.53 L400.27,501.53 L400.27,500.55 L400.48,500.55 L400.48,499.57 L400.69,499.57 L400.69,498.58 L400.90,498.58 L400.90,497.60 L401.00,497.60 L401.13,497.60 L401.13,496.67 L401.40,496.67 L401.40,495.75 L401.66,495.75 L401.66,494.82 L401.92,494.82 L401.92,493.89 L402.19,493.89 L402.19,492.96 L402.45,492.96 L402.45,492.04 L402.71,492.04 L402.71,491.11 L402.98,491.11 L402.98,490.18 L403.24,490.18 L403.24,489.25 L403.50,489.25 L403.50,488.33 L403.77,488.33 L403.77,487.40 L403.90,487.40 L404.03,487.40 L404.03,486.42 L404.29,486.42 L404.29,485.43 L404.55,485.43 L404.55,484.45 L404.80,484.45 L404.80,483.47 L405.06,483.47 L405.06,482.48 L405.32,482.48 L405.32,481.50 L405.58,481.50 L405.58,480.52 L405.84,480.52 L405.84,479.53 L406.10,479.53 L406.10,478.55 L406.35,478.55 L406.35,477.57 L406.61,477.57 L406.61,476.58 L406.87,476.58 L406.87,475.60 L407.00,475.60 L407.14,475.60 L407.14,474.62 L407.41,474.62 L407.41,473.63 L407.69,473.63 L407.69,472.65 L407.96,472.65 L407.96,471.67 L408.24,471.67 L408.24,470.68 L408.51,470.68 L408.51,469.70 L408.79,469.70 L408.79,468.72 L409.06,468.72 L409.06,467.73 L409.34,467.73 L409.34,466.75 L409.61,466.75 L409.61,465.77 L409.89,465.77 L409.89,464.78 L410.16,464.78 L410.16,463.80 L410.30,463.80 L410.42,463.80 L410.42,462.84 L410.66,462.84 L410.66,461.87 L410.91,461.87 L410.91,460.91 L411.15,460.91 L411.15,459.94 L411.39,459.94 L411.39,458.98 L411.64,458.98 L411.64,458.01 L411.88,458.01 L411.88,457.05 L412.12,457.05 L412.12,456.09 L412.36,456.09 L412.36,455.12 L412.61,455.12 L412.61,454.16 L412.85,454.16 L412.85,453.19 L413.09,453.19 L413.09,452.23 L413.34,452.23 L413.34,451.26 L413.58,451.26 L413.58,450.30 L413.70,450.30 L413.84,450.30 L413.84,449.36 L414.12,449.36 L414.12,448.43 L414.40,448.43 L414.40,447.49 L414.69,447.49 L414.69,446.55 L414.97,446.55 L414.97,445.62 L415.25,445.62 L415.25,444.68 L415.53,444.68 L415.53,443.75 L415.81,443.75 L415.81,442.81 L416.10,442.81 L416.10,441.87 L416.38,441.87 L416.38,440.94 L416.66,440.94 L416.66,440.00 L416.80,440.00 L416.95,440.00 L416.95,439.06 L417.24,439.06 L417.24,438.13 L417.53,438.13 L417.53,437.19 L417.82,437.19 L417.82,436.25 L418.11,436.25 L418.11,435.32 L418.40,435.32 L418.40,434.38 L418.69,434.38 L418.69,433.45 L418.98,433.45 L418.98,432.51 L419.27,432.51 L419.27,431.57 L419.56,431.57 L419.56,430.64 L419.85,430.64 L419.85,429.70 L420.00,429.70 L420.15,429.70 L420.15,428.75 L420.44,428.75 L420.44,427.79 L420.73,427.79 L420.73,426.84 L421.02,426.84 L421.02,425.88 L421.31,425.88 L421.31,424.93 L421.60,424.93 L421.60,423.97 L421.89,423.97 L421.89,423.02 L422.18,423.02 L422.18,422.06 L422.47,422.06 L422.47,421.11 L422.76,421.11 L422.76,420.15 L423.05,420.15 L423.05,419.20 L423.20,419.20 L423.36,419.20 L423.36,418.22 L423.68,418.22 L423.68,417.24 L424.01,417.24 L424.01,416.27 L424.33,416.27 L424.33,415.29 L424.65,415.29 L424.65,414.31 L424.97,414.31 L424.97,413.33 L425.29,413.33 L425.29,412.36 L425.62,412.36 L425.62,411.38 L425.94,411.38 L425.94,410.40 L426.10,410.40 L426.33,410.40 L426.33,409.49 L426.79,409.49 L426.79,408.57 L427.26,408.57 L427.26,407.66 L427.72,407.66 L427.72,406.75 L428.18,406.75 L428.18,405.84 L428.64,405.84 L428.64,404.93 L429.11,404.93 L429.11,404.01 L429.57,404.01 L429.57,403.10 L429.80,403.10 L430.11,403.10 L430.11,402.12 L430.73,402.12 L430.73,401.13 L431.34,401.13 L431.34,400.15 L431.96,400.15 L431.96,399.17 L432.57,399.17 L432.57,398.18 L433.19,398.18 L433.19,397.20 L433.50,397.20 L433.76,397.20 L433.76,396.26 L434.27,396.26 L434.27,395.31 L434.79,395.31 L434.79,394.37 L435.30,394.37 L435.30,393.43 L435.81,393.43 L435.81,392.49 L436.33,392.49 L436.33,391.54 L436.84,391.54 L436.84,390.60 L437.10,390.60 L437.48,390.60 L437.48,389.75 L438.23,389.75 L438.23,388.90 L438.98,388.90 L438.98,388.05 L439.73,388.05 L439.73,387.20 L440.48,387.20 L440.48,386.35 L441.23,386.35 L441.23,385.50 L441.60,385.50 L441.97,385.50 L441.97,384.52 L442.70,384.52 L442.70,383.53 L443.43,383.53 L443.43,382.55 L444.17,382.55 L444.17,381.57 L444.90,381.57 L444.90,380.58 L445.63,380.58 L445.63,379.60 L446.00,379.60 L446.44,379.60 L446.44,378.72 L447.32,378.72 L447.32,377.84 L448.20,377.84 L448.20,376.96 L449.08,376.96 L449.08,376.08 L449.96,376.08 L449.96,375.20 L450.40,375.20 L451.50,375.20 L451.50,374.23 L453.70,374.23 L453.70,373.27 L455.90,373.27 L455.90,372.30 L457.00,372.30 L457.97,372.30 L457.97,371.33 L459.90,371.33 L459.90,370.37 L461.83,370.37 L461.83,369.40 L462.80,369.40 L463.78,369.40 L463.78,368.63 L465.75,368.63 L465.75,367.87 L467.72,367.87 L467.72,367.10 L468.70,367.10 L469.68,367.10 L469.68,366.40 L471.65,366.40 L471.65,365.70 L473.62,365.70 L473.62,365.00 L474.60,365.00 L475.20,365.00 L475.20,364.45 L476.40,364.45 L476.40,363.90 L477.00,363.90 L478.17,363.90 L478.17,362.93 L480.50,362.93 L480.50,361.97 L482.83,361.97 L482.83,361.00 L484.00,361.00 L484.58,361.00 L484.58,360.23 L485.75,360.23 L485.75,359.47 L486.92,359.47 L486.92,358.70 L487.50,358.70 L490.43,358.70 L490.43,358.00 L496.27,358.00 L496.27,357.30 L499.20,357.30 L505.05,357.30 L505.05,356.40 L510.90,356.40 L513.23,356.40 L513.23,355.50 L517.88,355.50 L517.88,354.60 L520.20,354.60 L522.25,354.60 L522.25,353.70 L526.35,353.70 L526.35,352.80 L528.40,352.80 L530.15,352.80 L530.15,352.25 L533.65,352.25 L533.65,351.70 L535.40,351.70 L538.90,351.70 L538.90,351.50 L542.40,351.50 L560.00,351.50 L560.00,350.70 L578.00,350.70 L578.00,349.60 L594.00,349.60 L594.00,348.40 L658.60,348.40" fill="none" stroke="#000" stroke-width="3.75" stroke-linejoin="round"  clip-path="url(#c11)"/>
<rect x="56.6" y="28.3" width="295.70" height="298.00" fill="none" stroke="#3d3d3d" stroke-width="1.1"/>
<rect x="56.6" y="335.3" width="295.70" height="297.50" fill="none" stroke="#3d3d3d" stroke-width="1.1"/>
<rect x="360.9" y="28.3" width="295.70" height="298.00" fill="none" stroke="#3d3d3d" stroke-width="1.1"/>
<rect x="360.9" y="335.3" width="295.70" height="297.50" fill="none" stroke="#3d3d3d" stroke-width="1.1"/>
<line x1="51.9" x2="56.6" y1="312.75" y2="312.75" stroke="#3d3d3d" stroke-width="1.1"/>
<text x="48.7" y="318.05" text-anchor="end" font-family="Liberation Sans" font-weight="bold" font-size="13.6" fill="#000">0.00</text>
<line x1="51.9" x2="56.6" y1="245.03" y2="245.03" stroke="#3d3d3d" stroke-width="1.1"/>
<text x="48.7" y="250.33" text-anchor="end" font-family="Liberation Sans" font-weight="bold" font-size="13.6" fill="#000">0.25</text>
<line x1="51.9" x2="56.6" y1="177.30" y2="177.30" stroke="#3d3d3d" stroke-width="1.1"/>
<text x="48.7" y="182.60" text-anchor="end" font-family="Liberation Sans" font-weight="bold" font-size="13.6" fill="#000">0.50</text>
<line x1="51.9" x2="56.6" y1="109.58" y2="109.58" stroke="#3d3d3d" stroke-width="1.1"/>
<text x="48.7" y="114.88" text-anchor="end" font-family="Liberation Sans" font-weight="bold" font-size="13.6" fill="#000">0.75</text>
<line x1="51.9" x2="56.6" y1="41.85" y2="41.85" stroke="#3d3d3d" stroke-width="1.1"/>
<text x="48.7" y="47.15" text-anchor="end" font-family="Liberation Sans" font-weight="bold" font-size="13.6" fill="#000">1.00</text>
<line x1="51.9" x2="56.6" y1="619.25" y2="619.25" stroke="#3d3d3d" stroke-width="1.1"/>
<text x="48.7" y="624.55" text-anchor="end" font-family="Liberation Sans" font-weight="bold" font-size="13.6" fill="#000">0.00</text>
<line x1="51.9" x2="56.6" y1="551.52" y2="551.52" stroke="#3d3d3d" stroke-width="1.1"/>
<text x="48.7" y="556.82" text-anchor="end" font-family="Liberation Sans" font-weight="bold" font-size="13.6" fill="#000">0.25</text>
<line x1="51.9" x2="56.6" y1="483.80" y2="483.80" stroke="#3d3d3d" stroke-width="1.1"/>
<text x="48.7" y="489.10" text-anchor="end" font-family="Liberation Sans" font-weight="bold" font-size="13.6" fill="#000">0.50</text>
<line x1="51.9" x2="56.6" y1="416.08" y2="416.08" stroke="#3d3d3d" stroke-width="1.1"/>
<text x="48.7" y="421.38" text-anchor="end" font-family="Liberation Sans" font-weight="bold" font-size="13.6" fill="#000">0.75</text>
<line x1="51.9" x2="56.6" y1="348.35" y2="348.35" stroke="#3d3d3d" stroke-width="1.1"/>
<text x="48.7" y="353.65" text-anchor="end" font-family="Liberation Sans" font-weight="bold" font-size="13.6" fill="#000">1.00</text>
<line x1="69.20" x2="69.20" y1="632.8" y2="637.10" stroke="#3d3d3d" stroke-width="1.1"/>
<text x="69.20" y="650.9" text-anchor="middle" font-family="Liberation Sans" font-size="13.6" fill="#4D4D4D">0</text>
<line x1="137.95" x2="137.95" y1="632.8" y2="637.10" stroke="#3d3d3d" stroke-width="1.1"/>
<text x="137.95" y="650.9" text-anchor="middle" font-family="Liberation Sans" font-size="13.6" fill="#4D4D4D">25</text>
<line x1="206.70" x2="206.70" y1="632.8" y2="637.10" stroke="#3d3d3d" stroke-width="1.1"/>
<text x="206.70" y="650.9" text-anchor="middle" font-family="Liberation Sans" font-size="13.6" fill="#4D4D4D">50</text>
<line x1="275.45" x2="275.45" y1="632.8" y2="637.10" stroke="#3d3d3d" stroke-width="1.1"/>
<text x="275.45" y="650.9" text-anchor="middle" font-family="Liberation Sans" font-size="13.6" fill="#4D4D4D">75</text>
<line x1="344.20" x2="344.20" y1="632.8" y2="637.10" stroke="#3d3d3d" stroke-width="1.1"/>
<text x="344.20" y="650.9" text-anchor="middle" font-family="Liberation Sans" font-size="13.6" fill="#4D4D4D">100</text>
<line x1="374.30" x2="374.30" y1="632.8" y2="637.10" stroke="#3d3d3d" stroke-width="1.1"/>
<text x="374.30" y="650.9" text-anchor="middle" font-family="Liberation Sans" font-size="13.6" fill="#4D4D4D">0</text>
<line x1="442.30" x2="442.30" y1="632.8" y2="637.10" stroke="#3d3d3d" stroke-width="1.1"/>
<text x="442.30" y="650.9" text-anchor="middle" font-family="Liberation Sans" font-size="13.6" fill="#4D4D4D">5</text>
<line x1="510.30" x2="510.30" y1="632.8" y2="637.10" stroke="#3d3d3d" stroke-width="1.1"/>
<text x="510.30" y="650.9" text-anchor="middle" font-family="Liberation Sans" font-size="13.6" fill="#4D4D4D">10</text>
<line x1="578.30" x2="578.30" y1="632.8" y2="637.10" stroke="#3d3d3d" stroke-width="1.1"/>
<text x="578.30" y="650.9" text-anchor="middle" font-family="Liberation Sans" font-size="13.6" fill="#4D4D4D">15</text>
<line x1="646.30" x2="646.30" y1="632.8" y2="637.10" stroke="#3d3d3d" stroke-width="1.1"/>
<text x="646.30" y="650.9" text-anchor="middle" font-family="Liberation Sans" font-size="13.6" fill="#4D4D4D">20</text>
<text transform="translate(15.0,330.5) rotate(-90)" text-anchor="middle" font-family="Liberation Sans" font-weight="bold" font-size="16.8" fill="#000">Relative frequency of wastewater plants</text>
<text x="206.3" y="675.0" font-size="16.9" font-family="Liberation Sans" fill="#000">Plant effluent concentration</text>
<text x="416" y="675.0" font-size="16.9" font-family="Liberation Sans" fill="#000">(</text>
<text x="427.2" y="675.0" font-size="16.9" font-family="Liberation Sans" fill="#000">10</text>
<text x="444.8" y="669.2" font-size="12.8" font-family="Liberation Sans" fill="#000">3</text>
<text x="456" y="675.0" font-size="16.9" font-family="Liberation Sans" fill="#000">&#181;g</text>
<text x="478.8" y="675.0" font-size="16.9" font-family="Liberation Sans" fill="#000">l</text>
<text x="482" y="669.5" font-size="12.8" font-family="Liberation Sans" fill="#000">&#8722;1</text>
<text x="502" y="675.0" font-size="16.9" font-family="Liberation Sans" fill="#000">)</text>
</svg>
</body></html>
